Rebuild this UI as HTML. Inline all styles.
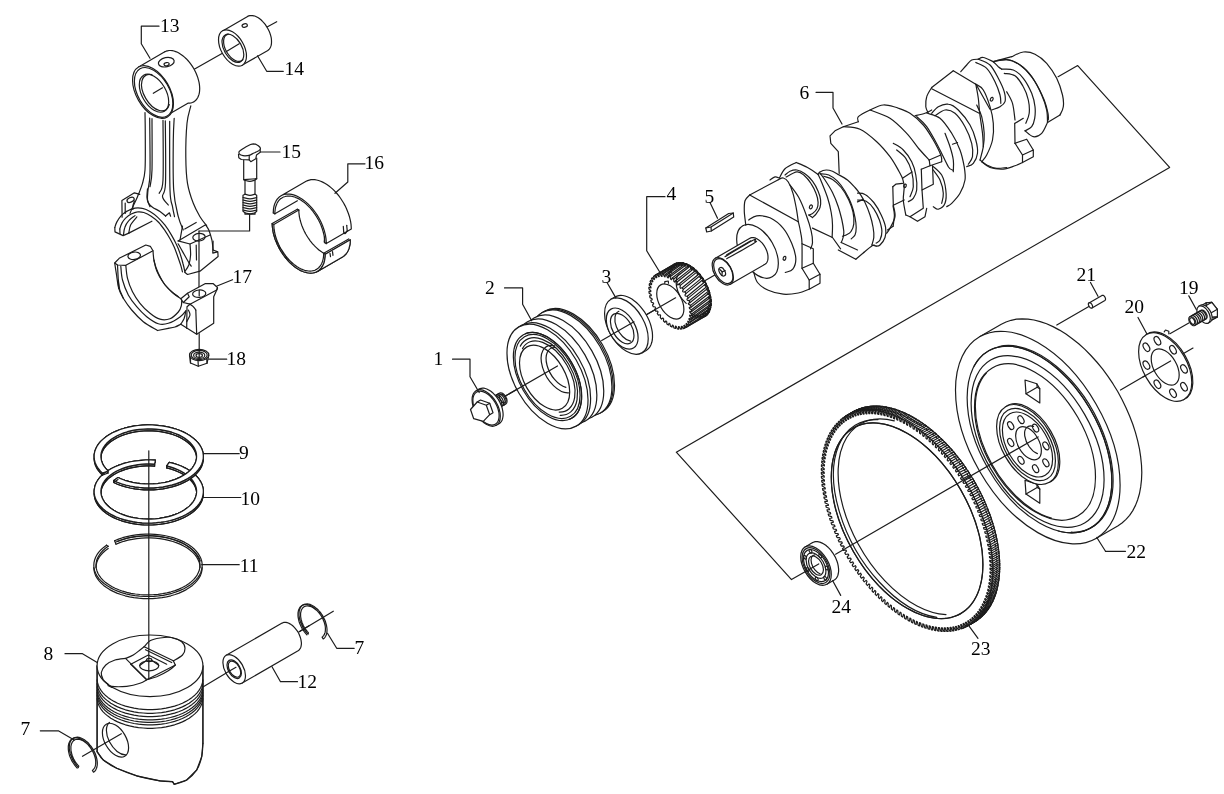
<!DOCTYPE html>
<html><head><meta charset="utf-8"><title>Engine crank mechanism exploded view</title>
<style>
html,body{margin:0;padding:0;background:#fff;}
body{width:1224px;height:794px;overflow:hidden;font-family:"Liberation Serif",serif;}
svg{display:block;will-change:transform;}
svg path,svg ellipse,svg line,svg polyline,svg circle{fill:none;stroke:#1c1c1c;stroke-width:1.2;stroke-linecap:round;stroke-linejoin:round;}
svg text{font-family:"Liberation Serif",serif;fill:#000;stroke:none;}
</style></head><body>
<svg width="1224" height="794" viewBox="0 0 1224 794">
<path d="M194.2 69.2 L239.2 43.7"/>
<path d="M267.5 26.7 L276.7 21.7"/>
<path d="M222.6 30.9 L247.6 16.4 L248.7 15.9 L249.9 15.6 L251.2 15.5 L252.5 15.6 L253.9 15.8 L255.3 16.3 L256.8 17 L258.3 17.8 L259.7 18.8 L261.2 20 L262.5 21.4 L263.9 22.8 L265.2 24.4 L266.3 26.1 L267.4 27.8 L268.4 29.7 L269.3 31.5 L270 33.4 L270.6 35.3 L271.1 37.2 L271.4 39 L271.5 40.8 L271.5 42.5 L271.4 44.1 L271.1 45.5 L270.6 46.9 L270 48.1 L269.3 49.1 L268.4 50 L267.4 50.7 L242.4 65.1" style="fill:#fff"/>
<ellipse cx="232.5" cy="48" rx="19.8" ry="11.4" transform="rotate(60 232.5 48)" style="fill:#fff"/>
<ellipse cx="232.9" cy="48.3" rx="15.4" ry="8.9" transform="rotate(60 232.9 48.3)"/>
<path d="M228.2 34.1 A15 8.7 60 1 0 243 59.6"/>
<path d="M226 51.7 L239.2 43.7"/>
<ellipse cx="244.7" cy="25.5" rx="2.7" ry="1.7" transform="rotate(-15 244.7 25.5)"/>
<path d="M257.5 55.8 L266.7 71.3 L283.3 71.3"/>
<text x="284.5" y="75" font-size="19.5">14</text>
<path d="M164.8 51.8 L166.1 51.2 L167.5 50.8 L169 50.5 L170.6 50.5 L172.3 50.6 L174 51 L175.7 51.6 L177.5 52.3 L179.2 53.3 L181 54.4 L182.8 55.7 L184.5 57.1 L186.2 58.7 L187.9 60.5 L189.5 62.3 L191 64.3 L192.4 66.4 L193.7 68.5 L194.9 70.7 L196 73 L196.9 75.3 L197.8 77.6 L198.4 79.9 L199 82.1 L199.4 84.4 L199.6 86.5 L199.7 88.6 L199.6 90.7 L199.4 92.6 L199 94.4 L198.4 96 L197.8 97.5 L196.9 98.9 L196 100 L194.9 101.1 L193.7 101.9 L192.4 102.5 L191 102.9 L189.5 103.2 L187.9 103.2 L161.6 118.4" style="fill:#fff"/>
<path d="M138.6 67 L164.8 51.8"/>
<ellipse cx="153" cy="92" rx="28.9" ry="16.7" transform="rotate(60 153 92)" style="fill:#fff"/>
<ellipse cx="153.6" cy="92.4" rx="27.2" ry="15.7" transform="rotate(60 153.6 92.4)"/>
<ellipse cx="154" cy="93.2" rx="20.8" ry="12" transform="rotate(60 154 93.2)"/>
<path d="M151.9 74.7 A20 11.5 60 1 0 169.3 104.7"/>
<ellipse cx="166.3" cy="62.2" rx="8" ry="4.6" transform="rotate(-12 166.3 62.2)"/>
<ellipse cx="166.6" cy="64.2" rx="2.6" ry="1.6" transform="rotate(-12 166.6 64.2)"/>
<path d="M153.3 93.3 L162.5 87.8"/>
<path d="M145 112.5 C145.1 117.1 145.3 130.4 145.3 140 C145.3 149.6 145.5 162.8 145 170 C144.5 177.2 143.8 178.9 142.5 183.3 C141.2 187.8 139.1 192.8 137.5 196.7 C135.9 200.6 134.1 203.9 132.8 206.7 C131.6 209.4 130.5 212.2 130 213.3"/>
<path d="M149.7 118 C149.7 127.2 150.3 161.3 150 173.3 C149.7 185.3 148.4 185.6 148 190 C147.6 194.4 147.2 197.2 147.5 200 C147.8 202.8 149.6 205.6 150 206.7"/>
<path d="M152 118.7 C152 127.2 152.3 158.7 152 170 C151.7 181.3 150.3 183.9 150 186.7"/>
<path d="M163 120.3 C163 130.3 163.6 167.8 163 180 C162.4 192.2 159.8 191.1 159.2 193.3"/>
<path d="M165.3 120.8 C165.4 131.2 166 170.7 165.5 183.3 C165 196 162 193.1 162.5 196.7 C163 200.3 167.4 203.6 168.3 205"/>
<path d="M169.7 121.3 C169.7 132.8 169.5 175.8 170 190 C170.5 204.2 171.8 202.2 172.5 206.7 C173.2 211.1 174.2 215 174.5 216.7"/>
<path d="M174.2 118.3 C174 121.9 173.4 128.1 173.3 140 C173.2 151.9 172.8 177.2 173.7 190 C174.5 202.8 176.7 210 178.3 216.7 C179.9 223.3 182.5 227.8 183.3 230"/>
<path d="M190.8 105.8 C190.2 108.8 187.8 114.9 187 123.3 C186.2 131.8 185.7 146.7 185.8 156.7 C185.9 166.7 186.2 175.6 187.5 183.3 C188.8 191.1 191.2 197.8 193.3 203.3 C195.4 208.9 197.8 212.9 200 216.7 C202.2 220.4 205.6 224.3 206.7 225.8"/>
<path d="M114.8 227.5 C115.1 226.6 115.8 223.9 116.9 221.9 C118 219.9 119.5 217.5 121.2 215.6 C123 213.8 125.2 212.1 127.5 210.9 C129.8 209.6 132.5 208.5 135 208.1 C137.5 207.7 140 207.8 142.5 208.4 C145 208.9 147.5 210 150 211.5 C152.5 213 155 214.8 157.5 217.1 C160 219.4 162.7 222.3 165 225.2 C167.3 228.2 169.4 231.5 171.2 234.6 C173.1 237.8 174.8 240.9 176.2 244 C177.7 247.1 178.9 250 180 253.4 C181.1 256.7 182.3 260.8 183.1 264 C184 267.2 184.7 271.1 185 272.5"/>
<path d="M119.8 229 C120.1 228 120.9 224.9 121.9 223.1 C122.9 221.3 124.1 219.6 125.6 218.1 C127.2 216.6 129.3 215 131.2 214 C133.2 213 135.4 212.1 137.5 211.9 C139.6 211.6 141.5 211.8 143.8 212.5 C146 213.2 148.8 214.6 151.2 216.2 C153.8 217.9 156.5 220.1 158.8 222.5 C161 224.9 163.1 227.9 165 230.6 C166.9 233.3 168.4 235.9 170 238.8 C171.6 241.6 173 244.4 174.4 247.5 C175.7 250.6 177 254.4 178.1 257.5 C179.2 260.6 180.3 263.9 181 266.2 C181.7 268.6 182.2 270.9 182.5 271.9"/>
<path d="M123.5 234.8 C123.7 233.5 123.9 229.9 124.8 227.5 C125.6 225.1 127 222.6 128.8 220.6 C130.5 218.6 134 216.5 135 215.6"/>
<path d="M128.8 233.1 C129.1 231.8 129.3 227.7 130.6 225 C132 222.3 135.8 218.2 136.9 216.9"/>
<path d="M114.8 227.5 L115 231.9 L123.1 235.6 L128.8 233.1"/>
<path d="M128.8 233.1 L151.9 221.2"/>
<path d="M119.8 229 L120 233.5"/>
<path d="M122.1 217.2 L121.9 200.6 L134.4 192.8 L139.8 194.4"/>
<path d="M125.2 213.5 L125.2 203.1"/>
<ellipse cx="130.6" cy="199.8" rx="3.8" ry="2.3" transform="rotate(-25 130.6 199.8)"/>
<path d="M134.4 201.2 C134.2 201.9 133.4 203.6 133.1 205 C132.9 206.4 132.8 208.6 132.8 209.4"/>
<path d="M147.5 188.8 C147.4 190.2 146.8 195.1 147 197.5 C147.2 199.9 147.6 201.5 148.5 203.1 C149.4 204.8 150.6 205.9 152.5 207.2 C154.4 208.6 157.8 210 160 211.5 C162.2 213 164.7 215.2 165.6 216"/>
<path d="M165.6 216 L169.4 212.8 L170.6 216.2"/>
<path d="M178.1 240.9 L205.6 224.8"/>
<path d="M180 240 L182.5 226.2"/>
<path d="M184.8 229 L196.2 222.5"/>
<path d="M205.6 224.8 C206.1 225.6 207.7 227.5 208.8 230 C209.8 232.5 211.1 236.7 211.9 240 C212.6 243.3 212.9 248.3 213.1 250"/>
<path d="M178.1 240.9 L190 244 L210 235"/>
<path d="M213.1 250 L217.8 251.9 L218.1 256.5 L200 271.2 L187.5 274.5 L185 272.5"/>
<path d="M213.1 241.2 L212.8 253.1 L217.5 251.9"/>
<ellipse cx="199" cy="237.2" rx="6.2" ry="3.8" transform="rotate(-5 199 237.2)"/>
<path d="M190 244 C190.1 245.8 190.8 251.5 190.6 255 C190.4 258.5 189.7 262.3 188.8 265 C187.8 267.7 185.6 270.2 185 271.2"/>
<path d="M178.1 243.8 C179.1 245.4 182 250.6 183.8 253.8 C185.5 256.9 187.5 260.4 188.8 262.5 C190 264.6 190.8 265.6 191.2 266.2"/>
<path d="M196.2 245 L196.5 260"/>
<path d="M199 231 L199 290"/>
<path d="M249.6 214.4 L249.6 231 L199 231"/>
<path d="M159 26.2 L141.3 26.2 L141.3 43.7 L150 58.3"/>
<text x="160" y="32" font-size="19.5">13</text>
<path d="M238.5 154.3 L238.8 157.7 L241.3 159.5 L249.2 159.8 L250.8 161.7 L255.8 158.7 L256.5 155 L260.2 152.3 L260.2 148.7" style="fill:#fff"/>
<path d="M240 150.7 C241 149.9 243.2 148.5 245 147.5 C246.8 146.5 249.1 145.1 250.5 144.5 C251.9 143.9 252.6 143.8 253.7 143.8 C254.7 143.9 255.7 144.1 256.7 144.7 C257.7 145.2 259.1 146.3 259.7 147 C260.3 147.7 260.5 148.4 260.3 149 C260.2 149.6 259.8 149.9 258.7 150.7 C257.5 151.4 254.9 152.6 253.3 153.3 C251.8 154.1 250.6 154.9 249.2 155.3 C247.8 155.8 246.2 155.8 245 155.8 C243.8 155.8 242.6 155.7 241.7 155.3 C240.7 155 239.8 154.4 239.3 153.8 C238.9 153.3 238.9 152.5 239 152 C239.1 151.5 239 151.4 240 150.7Z" style="fill:#fff"/>
<path d="M249.2 155.3 L249.2 159.8"/>
<path d="M243.7 160 L243.7 179.7 L245 180.3 L245 194.2 L243 195.3 L243 211.3 L245 212.8 L245 214.2 L255 214.2 L255 212.8 L256.7 211.3 L256.7 195.3 L255 194.2 L255 180 L256.7 178.7 L256.7 158"/>
<path d="M243.7 179.7 L256.7 178.7"/>
<path d="M245 180.3 C245.8 180.5 248.3 181.4 250 181.3 C251.7 181.3 254.2 180.2 255 180"/>
<path d="M245 194.2 C245.8 194.4 248.3 195.3 250 195.3 C251.7 195.3 254.2 194.4 255 194.2"/>
<path d="M243 197.5 C244.2 197.7 247.7 198.8 250 198.8 C252.3 198.8 255.6 197.7 256.7 197.5"/>
<path d="M243 200 C244.2 200.2 247.7 201.3 250 201.3 C252.3 201.3 255.6 200.2 256.7 200"/>
<path d="M243 202.5 C244.2 202.7 247.7 203.8 250 203.8 C252.3 203.8 255.6 202.7 256.7 202.5"/>
<path d="M243 205 C244.2 205.2 247.7 206.3 250 206.3 C252.3 206.3 255.6 205.2 256.7 205"/>
<path d="M243 207.5 C244.2 207.7 247.7 208.8 250 208.8 C252.3 208.8 255.6 207.7 256.7 207.5"/>
<path d="M243 210 C244.2 210.2 247.7 211.3 250 211.3 C252.3 211.3 255.6 210.2 256.7 210"/>
<path d="M245 212.8 C245.8 213 248.3 213.8 250 213.8 C251.7 213.8 254.2 213 255 212.8"/>
<path d="M260.3 152 L280 152"/>
<text x="281.5" y="158.3" font-size="19.5">15</text>
<path d="M273.3 212.9 L273.3 212.2 L273.3 211.4 L273.4 210.6 L273.4 209.8 L273.5 209.1 L273.6 208.4 L273.7 207.6 L273.9 206.9 L274 206.2 L274.2 205.6 L274.4 204.9 L274.6 204.2 L274.8 203.6 L275.1 203 L275.3 202.4 L275.6 201.8 L275.9 201.3 L276.2 200.7 L276.5 200.2 L276.9 199.7 L277.2 199.2 L277.6 198.8 L278 198.3 L278.4 197.9 L278.8 197.5 L279.2 197.1 L279.6 196.7 L280.1 196.4 L280.6 196.1 L281.1 195.8 L306.1 181.3 L307.6 180.6 L309.3 180.1 L311 179.7 L312.8 179.6 L314.7 179.7 L316.6 180 L318.6 180.5 L320.7 181.2 L322.7 182.1 L324.8 183.2 L326.9 184.5 L329 186 L331 187.6 L333 189.4 L335 191.4 L336.9 193.5 L338.7 195.7 L340.4 198 L342 200.5 L343.6 203 L345 205.6 L346.3 208.2 L347.4 210.9 L348.4 213.5 L349.3 216.2 L350 218.9 L350.6 221.5 L351 224.1 L351.2 226.7 L351.3 229.1 L326.3 243.6 L326.3 243.6 L326.2 241.1 L326 238.6 L325.6 236 L325 233.3 L324.3 230.7 L323.4 228 L322.4 225.3 L321.2 222.6 L320 220 L318.5 217.4 L317 214.9 L315.4 212.5 L313.6 210.2 L311.8 207.9 L309.9 205.8 L308 203.9 L306 202.1 L303.9 200.4 L301.9 198.9 L299.8 197.7 L297.7 196.5 L295.7 195.6 L293.6 194.9 L291.6 194.4 L289.7 194.1 L287.8 194 L286 194.2 L284.2 194.5 L282.6 195 L281.1 195.8 L279.6 196.7 L278.4 197.9 L277.2 199.2 L276.2 200.7 L275.3 202.4 L274.6 204.2 L274 206.2 L273.6 208.4 L273.4 210.6 L273.3 212.9" style="fill:#fff"/>
<path d="M324.7 242.7 C324.7 242.3 324.7 241.1 324.7 240.3 C324.6 239.6 324.5 238.8 324.4 238 C324.3 237.2 324.2 236.3 324.1 235.5 C323.9 234.7 323.7 233.9 323.5 233 C323.3 232.2 323.1 231.4 322.8 230.5 C322.6 229.7 322.3 228.8 322 228 C321.7 227.2 321.4 226.3 321.1 225.5 C320.7 224.6 320.4 223.8 320 223 C319.6 222.1 319.2 221.3 318.8 220.5 C318.3 219.7 317.9 218.9 317.4 218.1 C317 217.3 316.5 216.5 316 215.7 C315.5 214.9 315 214.2 314.5 213.4 C313.9 212.7 313.4 211.9 312.8 211.2 C312.3 210.5 311.7 209.8 311.1 209.1 C310.5 208.4 309.9 207.8 309.3 207.2 C308.7 206.5 308.1 205.9 307.5 205.3 C306.9 204.7 306.3 204.1 305.6 203.6 C305 203.1 304.3 202.5 303.7 202.1 C303.1 201.6 302.4 201.1 301.8 200.7 C301.1 200.2 300.5 199.8 299.8 199.4 C299.1 199.1 298.5 198.7 297.8 198.4 C297.2 198.1 296.5 197.8 295.9 197.6 C295.3 197.3 294.6 197.1 294 196.9 C293.3 196.7 292.7 196.5 292.1 196.4 C291.5 196.3 290.9 196.2 290.3 196.1 C289.7 196.1 289.1 196 288.5 196.1 C287.9 196.1 287.3 196.1 286.8 196.2 C286.2 196.2 285.7 196.3 285.1 196.5 C284.6 196.6 284.1 196.8 283.6 197 C283.1 197.2 282.6 197.4 282.2 197.7 C281.7 198 281.3 198.3 280.8 198.6 C280.4 198.9 280 199.3 279.6 199.7 C279.2 200.1 278.9 200.5 278.5 200.9 C278.2 201.4 277.9 201.8 277.6 202.3 C277.3 202.8 277 203.4 276.8 203.9 C276.5 204.5 276.3 205.1 276.1 205.7 C275.9 206.3 275.7 206.9 275.5 207.5 C275.4 208.2 275.3 208.8 275.2 209.5 C275.1 210.2 275 210.9 274.9 211.6 C274.9 212.4 274.9 213.5 274.9 213.8"/>
<path d="M274.9 213.8 L273.3 212.9"/>
<path d="M274.9 213.8 L297.4 200.8"/>
<path d="M343.3 226.3 L343.7 232"/>
<path d="M346.7 225.3 L347.2 230.8"/>
<path d="M343.7 232 C343.9 232.3 344.4 233.9 345 233.7 C345.6 233.5 346.8 231.3 347.2 230.8"/>
<path d="M326.3 243.7 L324.2 242 L324.7 236.7"/>
<path d="M335 193.3 L347.8 182 L347.8 163.8 L365 163.8"/>
<text x="364.5" y="169.2" font-size="19.5">16</text>
<path d="M298.8 210.1 C298.9 210.5 298.9 211.7 298.9 212.5 C299 213.3 299.1 214.2 299.2 215.1 C299.3 215.9 299.4 216.8 299.6 217.7 C299.8 218.5 300 219.4 300.2 220.3 C300.5 221.2 300.7 222.1 301 223 C301.3 223.9 301.6 224.8 301.9 225.7 C302.3 226.6 302.6 227.5 303 228.4 C303.4 229.3 303.8 230.2 304.2 231.1 C304.7 231.9 305.1 232.8 305.6 233.7 C306.1 234.5 306.6 235.4 307.1 236.2 C307.6 237.1 308.1 237.9 308.7 238.7 C309.3 239.5 309.8 240.3 310.4 241.1 C311 241.8 311.6 242.6 312.2 243.3 C312.8 244 313.5 244.7 314.1 245.4 C314.8 246.1 315.4 246.8 316.1 247.4 C316.7 248 317.4 248.6 318.1 249.2 C318.8 249.8 319.4 250.3 320.1 250.8 C320.8 251.4 321.5 251.8 322.2 252.3 C322.9 252.7 323.6 253.2 324.3 253.5 C325 253.9 325.7 254.3 326.4 254.6 C327.1 254.9 327.8 255.2 328.5 255.4 C329.1 255.7 329.8 255.9 330.5 256.1 C331.2 256.2 331.8 256.4 332.5 256.5 C333.1 256.6 333.8 256.6 334.4 256.6 C335 256.7 335.9 256.6 336.2 256.6"/>
<path d="M272.2 223.6 L297.3 209.2"/>
<path d="M273.8 224.5 L298.8 210.1"/>
<path d="M297.3 209.2 L298.8 210.1"/>
<path d="M272.2 223.6 L272.3 226 L272.6 228.6 L273 231.2 L273.5 233.8 L274.3 236.5 L275.1 239.2 L276.2 241.8 L277.3 244.5 L278.6 247.1 L280 249.7 L281.5 252.2 L283.2 254.7 L284.9 257 L286.7 259.2 L288.6 261.3 L290.6 263.3 L292.6 265.1 L294.6 266.7 L296.7 268.2 L298.8 269.5 L300.8 270.6 L302.9 271.5 L304.9 272.2 L306.9 272.7 L308.9 273 L310.8 273.1 L312.6 273 L314.3 272.6 L316 272.1 L317.5 271.4 L318.9 270.4 L320.2 269.3 L321.3 267.9 L322.4 266.4 L323.2 264.7 L324 262.9 L324.5 260.9 L324.9 258.8 L325.2 256.6 L325.3 254.2 L350.3 239.8 L350.3 239.8 L350.2 242.1 L350 244.3 L349.5 246.5 L349 248.5 L348.3 250.3 L347.4 252 L346.4 253.5 L345.2 254.8 L343.9 256 L342.5 256.9 L317.5 271.4"/>
<path d="M272.2 223.6 L272.3 226 L272.6 228.6 L273 231.2 L273.5 233.8 L274.3 236.5 L275.1 239.2 L276.2 241.8 L277.3 244.5 L278.6 247.1 L280 249.7 L281.5 252.2 L283.2 254.7 L284.9 257 L286.7 259.2 L288.6 261.3 L290.6 263.3 L292.6 265.1 L294.6 266.7 L296.7 268.2 L298.8 269.5 L300.8 270.6 L302.9 271.5 L304.9 272.2 L306.9 272.7 L308.9 273 L310.8 273.1 L312.6 273 L314.3 272.6 L316 272.1 L317.5 271.4 L318.9 270.4 L320.2 269.3 L321.3 267.9 L322.4 266.4 L323.2 264.7 L324 262.9 L324.5 260.9 L324.9 258.8 L325.2 256.6 L325.3 254.2 L323.7 253.3 L323.6 255.5 L323.4 257.6 L323 259.6 L322.5 261.5 L321.8 263.2 L321 264.8 L320 266.2 L318.9 267.5 L317.7 268.6 L316.4 269.4 L314.9 270.2 L313.4 270.7 L311.8 271 L310.1 271.1 L308.3 271 L306.5 270.7 L304.6 270.3 L302.7 269.6 L300.7 268.7 L298.8 267.7 L296.8 266.5 L294.8 265.1 L292.9 263.5 L291 261.8 L289.2 260 L287.4 258 L285.7 255.9 L284.1 253.7 L282.6 251.4 L281.1 249.1 L279.8 246.7 L278.6 244.2 L277.5 241.7 L276.5 239.1 L275.7 236.6 L275 234.1 L274.5 231.6 L274.1 229.2 L273.9 226.8 L273.8 224.5Z" style="fill:#fff"/>
<path d="M317.5 271.4 L318.9 270.4 L320.2 269.3 L321.3 267.9 L322.4 266.4 L323.2 264.7 L324 262.9 L324.5 260.9 L324.9 258.8 L325.2 256.6 L325.3 254.2 L350.3 239.8 L350.3 239.8 L350.2 242.1 L350 244.3 L349.5 246.5 L349 248.5 L348.3 250.3 L347.4 252 L346.4 253.5 L345.2 254.8 L343.9 256 L342.5 256.9Z" style="fill:#fff"/>
<path d="M323.7 253.3 L348.7 238.9"/>
<path d="M330 253.3 L330.5 256.7"/>
<path d="M332.5 251.7 L333 255.3"/>
<path d="M114.7 263 C115 265.1 116 271.6 116.7 275.8 C117.3 280.1 117.6 284.6 118.7 288.3 C119.8 292.1 121.2 294.7 123.3 298.3 C125.5 301.9 128.3 306.1 131.7 310 C135 313.9 139 318.2 143.3 321.7 C147.6 325.1 155.1 329 157.5 330.5"/>
<path d="M157.5 330.5 L168.3 328.3"/>
<path d="M168.3 328.3 C169.4 328.1 172.9 327.7 175 327 C177.1 326.3 179.9 324.6 180.8 324.2"/>
<path d="M125.8 265.3 C126.1 267.5 126.4 273.9 127.5 278.3 C128.6 282.7 130.4 287.5 132.5 291.7 C134.6 295.8 137.1 299.7 140 303.3 C142.9 306.9 146.7 310.7 150 313.3 C153.3 316 156.7 318.3 160 319.2 C163.3 320.1 166.9 319.9 170 318.7 C173.1 317.5 176.4 314.1 178.3 312 C180.2 309.9 180.8 307.8 181.3 305.8 C181.9 303.8 181.6 301 181.7 300"/>
<path d="M120.8 266.3 C121.1 268.6 121.2 275.2 122.5 280 C123.8 284.8 126 290.6 128.3 295 C130.7 299.4 133.6 303.1 136.7 306.7 C139.7 310.3 143.1 313.8 146.7 316.7 C150.3 319.5 154.7 322.6 158.3 323.7 C161.9 324.8 164.7 324.4 168.3 323.3 C171.9 322.2 177.1 319.1 180 317 C182.9 314.9 184.9 311.9 185.8 310.8"/>
<path d="M153 250.8 C153.2 252.6 153.3 257.9 154.2 261.7 C155.1 265.4 156.5 269.4 158.3 273.3 C160.1 277.2 162.5 281.7 165 285 C167.5 288.3 170.7 291.1 173.3 293.3 C176 295.6 179.6 297.8 180.8 298.7"/>
<path d="M154 260 C154.4 261.8 155.1 267.1 156.7 270.8 C158.2 274.6 160.8 279 163.3 282.5 C165.8 286 169.2 289.3 171.7 291.7 C174.2 294 177.2 295.8 178.3 296.7"/>
<path d="M114.7 263 L119.2 258.3 L145.8 245 L150.3 246.3 L153 250.8 L125.8 265.3 L117.5 265 L114.7 263" style="fill:#fff"/>
<ellipse cx="134.2" cy="255.8" rx="6.3" ry="3.7" transform="rotate(-8 134.2 255.8)"/>
<path d="M117.5 265 L118.7 288.3"/>
<path d="M118.3 280 L119.7 290 L123.3 298.3"/>
<path d="M180.8 298.7 L187.5 293.3 L205 283.7 L213.3 283.7 L217.5 287.5 L216.7 290 L190 304.2 L183.3 302.5 L180.8 298.7" style="fill:#fff"/>
<ellipse cx="199.2" cy="293.7" rx="6.6" ry="3.7" transform="rotate(-5 199.2 293.7)"/>
<path d="M187.5 293.3 L189.2 296.7 L183.3 302.5"/>
<path d="M217.5 288.3 L213.7 296.7 L213.7 323.3 L196.7 334.2 L180.8 324.2"/>
<path d="M190 304.2 L187 306.7 L186.7 328.3"/>
<path d="M195.8 310 L196.7 334.2"/>
<path d="M190 304.2 C190.6 304.6 192.4 305.7 193.3 306.7 C194.3 307.6 195.4 309.4 195.8 310"/>
<path d="M185.8 310.8 C185.6 312.1 185 316.1 184.2 318.3 C183.3 320.6 181.4 323.2 180.8 324.2"/>
<path d="M188.3 310 C188.6 310.8 190.3 313.1 190 315 C189.7 316.9 187.2 320.6 186.7 321.7"/>
<path d="M199.2 290 L199.2 295.8"/>
<path d="M199.2 333.7 L199.2 350"/>
<path d="M90 240"/>
<path d="M217 286 L232.5 279.7"/>
<text x="232.5" y="282.5" font-size="19.5">17</text>
<path d="M189.5 355 L190.5 363 L198.3 366.2 L207 363.3 L208.8 355.3"/>
<path d="M198.3 366.2 L198 360.3"/>
<path d="M207 363.3 L206.7 358"/>
<path d="M190.5 363 L190.5 357.5"/>
<ellipse cx="199.2" cy="355" rx="9.6" ry="5.6" style="fill:#fff"/>
<ellipse cx="199.2" cy="355" rx="8" ry="4.6" stroke-width="1.8"/>
<ellipse cx="199.2" cy="355.3" rx="5.6" ry="3.2" stroke-width="1.6"/>
<ellipse cx="199.2" cy="355.5" rx="3.2" ry="1.8"/>
<path d="M199.2 350 L199.2 356.7"/>
<path d="M208.7 359.2 L226.7 359.2"/>
<text x="226.5" y="365" font-size="19.5">18</text>
<path d="M169.2 462.3 L173.5 463.4 L177.7 464.8 L181.6 466.3 L185.3 468.1 L188.7 470 L191.8 472.1 L194.5 474.3 L197 476.7 L199 479.2 L200.7 481.8 L202 484.4 L202.8 487.1 L203.3 489.9 L203.3 492.6 L202.9 495.3 L202.2 498 L201 500.7 L199.4 503.3 L197.4 505.8 L195.1 508.2 L192.4 510.5 L189.3 512.6 L186 514.5 L182.4 516.3 L178.5 517.9 L174.4 519.3 L170.1 520.5 L165.6 521.5 L161 522.2 L156.3 522.7 L151.6 523 L146.8 523 L142.1 522.8 L137.4 522.3 L132.8 521.6 L128.3 520.7 L124 519.6 L119.8 518.2 L115.9 516.7 L112.2 514.9 L108.8 513 L105.7 510.9 L103 508.7 L100.5 506.3 L98.5 503.8 L96.8 501.2 L95.5 498.6 L94.7 495.9 L94.2 493.1 L94.2 490.4 L94.6 487.7 L95.3 485 L96.5 482.3 L98.1 479.7 L100.1 477.2 L102.4 474.8 L105.1 472.5 L108.2 470.4 L111.5 468.5 L115.1 466.7 L119 465.1 L123.1 463.7 L127.4 462.5 L131.9 461.5 L136.5 460.8 L141.2 460.3 L145.9 460 L150.7 460 L155.4 460.2 L155.4 462.2 L150.7 462 L145.9 462 L141.2 462.3 L136.5 462.8 L131.9 463.5 L127.4 464.5 L123.1 465.7 L119 467.1 L115.1 468.7 L111.5 470.5 L108.2 472.4 L105.1 474.5 L102.4 476.8 L100.1 479.2 L98.1 481.7 L96.5 484.3 L95.3 487 L94.6 489.7 L94.2 492.4 L94.2 495.1 L94.7 497.9 L95.5 500.6 L96.8 503.2 L98.5 505.8 L100.5 508.3 L103 510.7 L105.7 512.9 L108.8 515 L112.2 516.9 L115.9 518.7 L119.8 520.2 L124 521.6 L128.3 522.7 L132.8 523.6 L137.4 524.3 L142.1 524.8 L146.8 525 L151.6 525 L156.3 524.7 L161 524.2 L165.6 523.5 L170.1 522.5 L174.4 521.3 L178.5 519.9 L182.4 518.3 L186 516.5 L189.3 514.6 L192.4 512.5 L195.1 510.2 L197.4 507.8 L199.4 505.3 L201 502.7 L202.2 500 L202.9 497.3 L203.3 494.6 L203.3 491.9 L202.8 489.1 L202 486.4 L200.7 483.8 L199 481.2 L197 478.7 L194.5 476.3 L191.8 474.1 L188.7 472 L185.3 470.1 L181.6 468.3 L177.7 466.8 L173.5 465.4 L169.2 464.3Z" style="fill:#fff" stroke-width="0" stroke="#fff"/>
<path d="M166.7 465.9 L170.5 466.9 L174.1 468.1 L177.6 469.5 L180.8 471 L183.8 472.7 L186.5 474.5 L188.9 476.5 L191 478.5 L192.8 480.7 L194.3 483 L195.4 485.3 L196.2 487.7 L196.6 490.1 L196.6 492.5 L196.3 494.9 L195.6 497.2 L194.6 499.6 L193.2 501.8 L191.4 504 L189.4 506.1 L187 508.1 L184.3 510 L181.4 511.7 L178.2 513.2 L174.8 514.6 L171.2 515.9 L167.5 516.9 L163.6 517.7 L159.5 518.4 L155.4 518.8 L151.3 519.1 L147.1 519.1 L142.9 518.9 L138.8 518.5 L134.7 517.9 L130.8 517.1 L127 516.1 L123.4 514.9 L119.9 513.5 L116.7 512 L113.7 510.3 L111 508.5 L108.6 506.5 L106.5 504.5 L104.7 502.3 L103.2 500 L102.1 497.7 L101.3 495.3 L100.9 492.9 L100.9 490.5 L101.2 488.1 L101.9 485.8 L102.9 483.4 L104.3 481.2 L106.1 479 L108.1 476.9 L110.5 474.9 L113.2 473 L116.1 471.3 L119.3 469.8 L122.7 468.4 L126.3 467.1 L130 466.1 L133.9 465.3 L138 464.6 L142.1 464.2 L146.2 463.9 L150.4 463.9 L154.6 464.1 L154.6 466.1 L150.4 465.9 L146.2 465.9 L142.1 466.2 L138 466.6 L133.9 467.3 L130 468.1 L126.3 469.1 L122.7 470.4 L119.3 471.8 L116.1 473.3 L113.2 475 L110.5 476.9 L108.1 478.9 L106.1 481 L104.3 483.2 L102.9 485.4 L101.9 487.8 L101.2 490.1 L100.9 492.5 L100.9 494.9 L101.3 497.3 L102.1 499.7 L103.2 502 L104.7 504.3 L106.5 506.5 L108.6 508.5 L111 510.5 L113.7 512.3 L116.7 514 L119.9 515.5 L123.4 516.9 L127 518.1 L130.8 519.1 L134.7 519.9 L138.8 520.5 L142.9 520.9 L147.1 521.1 L151.3 521.1 L155.4 520.8 L159.5 520.4 L163.6 519.7 L167.5 518.9 L171.2 517.9 L174.8 516.6 L178.2 515.2 L181.4 513.7 L184.3 512 L187 510.1 L189.4 508.1 L191.4 506 L193.2 503.8 L194.6 501.6 L195.6 499.2 L196.3 496.9 L196.6 494.5 L196.6 492.1 L196.2 489.7 L195.4 487.3 L194.3 485 L192.8 482.7 L191 480.5 L188.9 478.5 L186.5 476.5 L183.8 474.7 L180.8 473 L177.6 471.5 L174.1 470.1 L170.5 468.9 L166.7 467.9Z" style="fill:#fff" stroke-width="0" stroke="#fff"/>
<path d="M169.2 462.3 L173.5 463.4 L177.7 464.8 L181.6 466.3 L185.3 468.1 L188.7 470 L191.8 472.1 L194.5 474.3 L197 476.7 L199 479.2 L200.7 481.8 L202 484.4 L202.8 487.1 L203.3 489.9 L203.3 492.6 L202.9 495.3 L202.2 498 L201 500.7 L199.4 503.3 L197.4 505.8 L195.1 508.2 L192.4 510.5 L189.3 512.6 L186 514.5 L182.4 516.3 L178.5 517.9 L174.4 519.3 L170.1 520.5 L165.6 521.5 L161 522.2 L156.3 522.7 L151.6 523 L146.8 523 L142.1 522.8 L137.4 522.3 L132.8 521.6 L128.3 520.7 L124 519.6 L119.8 518.2 L115.9 516.7 L112.2 514.9 L108.8 513 L105.7 510.9 L103 508.7 L100.5 506.3 L98.5 503.8 L96.8 501.2 L95.5 498.6 L94.7 495.9 L94.2 493.1 L94.2 490.4 L94.6 487.7 L95.3 485 L96.5 482.3 L98.1 479.7 L100.1 477.2 L102.4 474.8 L105.1 472.5 L108.2 470.4 L111.5 468.5 L115.1 466.7 L119 465.1 L123.1 463.7 L127.4 462.5 L131.9 461.5 L136.5 460.8 L141.2 460.3 L145.9 460 L150.7 460 L155.4 460.2 L154.6 464.1 L150.4 463.9 L146.2 463.9 L142.1 464.2 L138 464.6 L133.9 465.3 L130 466.1 L126.3 467.1 L122.7 468.4 L119.3 469.8 L116.1 471.3 L113.2 473 L110.5 474.9 L108.1 476.9 L106.1 479 L104.3 481.2 L102.9 483.4 L101.9 485.8 L101.2 488.1 L100.9 490.5 L100.9 492.9 L101.3 495.3 L102.1 497.7 L103.2 500 L104.7 502.3 L106.5 504.5 L108.6 506.5 L111 508.5 L113.7 510.3 L116.7 512 L119.9 513.5 L123.4 514.9 L127 516.1 L130.8 517.1 L134.7 517.9 L138.8 518.5 L142.9 518.9 L147.1 519.1 L151.3 519.1 L155.4 518.8 L159.5 518.4 L163.6 517.7 L167.5 516.9 L171.2 515.9 L174.8 514.6 L178.2 513.2 L181.4 511.7 L184.3 510 L187 508.1 L189.4 506.1 L191.4 504 L193.2 501.8 L194.6 499.6 L195.6 497.2 L196.3 494.9 L196.6 492.5 L196.6 490.1 L196.2 487.7 L195.4 485.3 L194.3 483 L192.8 480.7 L191 478.5 L188.9 476.5 L186.5 474.5 L183.8 472.7 L180.8 471 L177.6 469.5 L174.1 468.1 L170.5 466.9 L166.7 465.9Z" style="fill:#fff" stroke-width="0" stroke="#fff"/>
<path d="M166.7 467.9 L170.7 469 L174.5 470.2 L178 471.7 L181.4 473.3 L184.4 475.1 L187.2 477 L189.6 479.1 L191.7 481.3 L193.5 483.6 L194.9 486 L195.9 488.5 L196.5 491 L196.7 493.5"/>
<path d="M100.8 493.5 L101 491 L101.6 488.6 L102.6 486.2 L103.9 483.9 L105.5 481.6 L107.5 479.4 L109.9 477.4 L112.5 475.5 L115.4 473.7 L118.6 472 L122.1 470.6 L125.7 469.3 L129.5 468.2 L133.5 467.3 L137.6 466.7 L141.8 466.2 L146.1 465.9 L150.3 465.9 L154.6 466.1"/>
<path d="M203.3 493.5 L203.1 496.2 L202.5 499 L201.5 501.7 L200.1 504.3 L198.2 506.8 L196 509.2 L193.5 511.6 L190.6 513.7 L187.4 515.8 L183.8 517.6 L180.1 519.3 L176.1 520.8 L171.8 522 L167.4 523.1 L162.9 523.9 L158.2 524.5 L153.5 524.9 L148.8 525 L144 524.9 L139.3 524.5 L134.6 523.9 L130.1 523.1 L125.7 522 L121.5 520.8 L117.4 519.3 L113.7 517.6 L110.1 515.8 L106.9 513.7 L104 511.6 L101.5 509.2 L99.3 506.8 L97.4 504.3 L96 501.7 L95 499 L94.4 496.2 L94.2 493.5"/>
<path d="M169.2 462.3 L173.5 463.4 L177.7 464.8 L181.6 466.3 L185.3 468.1 L188.7 470 L191.8 472.1 L194.5 474.3 L197 476.7 L199 479.2 L200.7 481.8 L202 484.4 L202.8 487.1 L203.3 489.9 L203.3 492.6 L202.9 495.3 L202.2 498 L201 500.7 L199.4 503.3 L197.4 505.8 L195.1 508.2 L192.4 510.5 L189.3 512.6 L186 514.5 L182.4 516.3 L178.5 517.9 L174.4 519.3 L170.1 520.5 L165.6 521.5 L161 522.2 L156.3 522.7 L151.6 523 L146.8 523 L142.1 522.8 L137.4 522.3 L132.8 521.6 L128.3 520.7 L124 519.6 L119.8 518.2 L115.9 516.7 L112.2 514.9 L108.8 513 L105.7 510.9 L103 508.7 L100.5 506.3 L98.5 503.8 L96.8 501.2 L95.5 498.6 L94.7 495.9 L94.2 493.1 L94.2 490.4 L94.6 487.7 L95.3 485 L96.5 482.3 L98.1 479.7 L100.1 477.2 L102.4 474.8 L105.1 472.5 L108.2 470.4 L111.5 468.5 L115.1 466.7 L119 465.1 L123.1 463.7 L127.4 462.5 L131.9 461.5 L136.5 460.8 L141.2 460.3 L145.9 460 L150.7 460 L155.4 460.2 L154.6 464.1 L150.4 463.9 L146.2 463.9 L142.1 464.2 L138 464.6 L133.9 465.3 L130 466.1 L126.3 467.1 L122.7 468.4 L119.3 469.8 L116.1 471.3 L113.2 473 L110.5 474.9 L108.1 476.9 L106.1 479 L104.3 481.2 L102.9 483.4 L101.9 485.8 L101.2 488.1 L100.9 490.5 L100.9 492.9 L101.3 495.3 L102.1 497.7 L103.2 500 L104.7 502.3 L106.5 504.5 L108.6 506.5 L111 508.5 L113.7 510.3 L116.7 512 L119.9 513.5 L123.4 514.9 L127 516.1 L130.8 517.1 L134.7 517.9 L138.8 518.5 L142.9 518.9 L147.1 519.1 L151.3 519.1 L155.4 518.8 L159.5 518.4 L163.6 517.7 L167.5 516.9 L171.2 515.9 L174.8 514.6 L178.2 513.2 L181.4 511.7 L184.3 510 L187 508.1 L189.4 506.1 L191.4 504 L193.2 501.8 L194.6 499.6 L195.6 497.2 L196.3 494.9 L196.6 492.5 L196.6 490.1 L196.2 487.7 L195.4 485.3 L194.3 483 L192.8 480.7 L191 478.5 L188.9 476.5 L186.5 474.5 L183.8 472.7 L180.8 471 L177.6 469.5 L174.1 468.1 L170.5 466.9 L166.7 465.9Z" style="fill:#fff"/>
<path d="M166.7 465.9 L166.7 467.9"/>
<path d="M154.6 464.1 L154.6 466.1"/>
<path d="M102.4 473.1 L100.1 470.7 L98.1 468.2 L96.5 465.6 L95.3 462.9 L94.5 460.2 L94.2 457.4 L94.2 454.6 L94.7 451.9 L95.6 449.2 L96.9 446.5 L98.6 443.9 L100.7 441.4 L103.2 439.1 L106 436.8 L109.1 434.7 L112.5 432.8 L116.3 431.1 L120.2 429.5 L124.4 428.2 L128.8 427.1 L133.4 426.2 L138 425.5 L142.7 425.1 L147.5 424.9 L152.3 425 L157.1 425.3 L161.8 425.8 L166.4 426.6 L170.8 427.6 L175.1 428.8 L179.2 430.3 L183.1 431.9 L186.7 433.7 L190 435.7 L192.9 437.9 L195.6 440.2 L197.9 442.6 L199.8 445.2 L201.3 447.8 L202.4 450.5 L203.1 453.2 L203.3 456 L203.2 458.7 L202.6 461.5 L201.7 464.2 L200.3 466.8 L198.5 469.4 L196.3 471.9 L193.8 474.2 L190.9 476.4 L187.7 478.5 L184.2 480.4 L180.4 482.1 L176.4 483.6 L172.2 484.9 L167.7 485.9 L163.2 486.8 L158.5 487.4 L153.8 487.8 L149 487.9 L144.2 487.8 L139.4 487.4 L134.8 486.8 L130.2 486 L125.8 485 L121.5 483.7 L117.5 482.2 L113.7 480.5 L113.7 482.5 L117.5 484.2 L121.5 485.7 L125.8 487 L130.2 488 L134.8 488.8 L139.4 489.4 L144.2 489.8 L149 489.9 L153.8 489.8 L158.5 489.4 L163.2 488.8 L167.7 487.9 L172.2 486.9 L176.4 485.6 L180.4 484.1 L184.2 482.4 L187.7 480.5 L190.9 478.4 L193.8 476.2 L196.3 473.9 L198.5 471.4 L200.3 468.8 L201.7 466.2 L202.6 463.5 L203.2 460.7 L203.3 458 L203.1 455.2 L202.4 452.5 L201.3 449.8 L199.8 447.2 L197.9 444.6 L195.6 442.2 L192.9 439.9 L190 437.7 L186.7 435.7 L183.1 433.9 L179.2 432.3 L175.1 430.8 L170.8 429.6 L166.4 428.6 L161.8 427.8 L157.1 427.3 L152.3 427 L147.5 426.9 L142.7 427.1 L138 427.5 L133.4 428.2 L128.8 429.1 L124.4 430.2 L120.2 431.5 L116.3 433.1 L112.5 434.8 L109.1 436.7 L106 438.8 L103.2 441.1 L100.7 443.4 L98.6 445.9 L96.9 448.5 L95.6 451.2 L94.7 453.9 L94.2 456.6 L94.2 459.4 L94.5 462.2 L95.3 464.9 L96.5 467.6 L98.1 470.2 L100.1 472.7 L102.4 475.1Z" style="fill:#fff" stroke-width="0" stroke="#fff"/>
<path d="M108.1 471 L106.1 468.9 L104.3 466.7 L102.9 464.4 L101.9 462.1 L101.2 459.7 L100.9 457.3 L100.9 454.9 L101.3 452.4 L102.1 450.1 L103.3 447.7 L104.8 445.5 L106.6 443.3 L108.8 441.2 L111.2 439.3 L114 437.4 L117 435.7 L120.3 434.2 L123.7 432.9 L127.4 431.7 L131.3 430.7 L135.2 429.9 L139.3 429.3 L143.5 429 L147.7 428.8 L151.9 428.9 L156 429.1 L160.2 429.6 L164.2 430.3 L168.1 431.2 L171.9 432.2 L175.5 433.5 L178.9 434.9 L182 436.5 L184.9 438.3 L187.5 440.2 L189.8 442.2 L191.8 444.3 L193.5 446.6 L194.8 448.9 L195.8 451.2 L196.4 453.6 L196.6 456 L196.5 458.5 L196 460.9 L195.2 463.2 L193.9 465.5 L192.4 467.8 L190.5 470 L188.3 472 L185.7 473.9 L182.9 475.7 L179.8 477.4 L176.5 478.9 L173 480.2 L169.3 481.3 L165.4 482.3 L161.4 483 L157.3 483.6 L153.1 483.9 L148.9 484 L144.7 483.9 L140.6 483.6 L136.5 483.1 L132.5 482.4 L128.6 481.4 L124.8 480.3 L121.3 479 L118 477.5 L118 479.5 L121.3 481 L124.8 482.3 L128.6 483.4 L132.5 484.4 L136.5 485.1 L140.6 485.6 L144.7 485.9 L148.9 486 L153.1 485.9 L157.3 485.6 L161.4 485 L165.4 484.3 L169.3 483.3 L173 482.2 L176.5 480.9 L179.8 479.4 L182.9 477.7 L185.7 475.9 L188.3 474 L190.5 472 L192.4 469.8 L193.9 467.5 L195.2 465.2 L196 462.9 L196.5 460.5 L196.6 458 L196.4 455.6 L195.8 453.2 L194.8 450.9 L193.5 448.6 L191.8 446.3 L189.8 444.2 L187.5 442.2 L184.9 440.3 L182 438.5 L178.9 436.9 L175.5 435.5 L171.9 434.2 L168.1 433.2 L164.2 432.3 L160.2 431.6 L156 431.1 L151.9 430.9 L147.7 430.8 L143.5 431 L139.3 431.3 L135.2 431.9 L131.3 432.7 L127.4 433.7 L123.7 434.9 L120.3 436.2 L117 437.7 L114 439.4 L111.2 441.3 L108.8 443.2 L106.6 445.3 L104.8 447.5 L103.3 449.7 L102.1 452.1 L101.3 454.4 L100.9 456.9 L100.9 459.3 L101.2 461.7 L101.9 464.1 L102.9 466.4 L104.3 468.7 L106.1 470.9 L108.1 473Z" style="fill:#fff" stroke-width="0" stroke="#fff"/>
<path d="M102.4 473.1 L100.1 470.7 L98.1 468.2 L96.5 465.6 L95.3 462.9 L94.5 460.2 L94.2 457.4 L94.2 454.6 L94.7 451.9 L95.6 449.2 L96.9 446.5 L98.6 443.9 L100.7 441.4 L103.2 439.1 L106 436.8 L109.1 434.7 L112.5 432.8 L116.3 431.1 L120.2 429.5 L124.4 428.2 L128.8 427.1 L133.4 426.2 L138 425.5 L142.7 425.1 L147.5 424.9 L152.3 425 L157.1 425.3 L161.8 425.8 L166.4 426.6 L170.8 427.6 L175.1 428.8 L179.2 430.3 L183.1 431.9 L186.7 433.7 L190 435.7 L192.9 437.9 L195.6 440.2 L197.9 442.6 L199.8 445.2 L201.3 447.8 L202.4 450.5 L203.1 453.2 L203.3 456 L203.2 458.7 L202.6 461.5 L201.7 464.2 L200.3 466.8 L198.5 469.4 L196.3 471.9 L193.8 474.2 L190.9 476.4 L187.7 478.5 L184.2 480.4 L180.4 482.1 L176.4 483.6 L172.2 484.9 L167.7 485.9 L163.2 486.8 L158.5 487.4 L153.8 487.8 L149 487.9 L144.2 487.8 L139.4 487.4 L134.8 486.8 L130.2 486 L125.8 485 L121.5 483.7 L117.5 482.2 L113.7 480.5 L118 477.5 L121.3 479 L124.8 480.3 L128.6 481.4 L132.5 482.4 L136.5 483.1 L140.6 483.6 L144.7 483.9 L148.9 484 L153.1 483.9 L157.3 483.6 L161.4 483 L165.4 482.3 L169.3 481.3 L173 480.2 L176.5 478.9 L179.8 477.4 L182.9 475.7 L185.7 473.9 L188.3 472 L190.5 470 L192.4 467.8 L193.9 465.5 L195.2 463.2 L196 460.9 L196.5 458.5 L196.6 456 L196.4 453.6 L195.8 451.2 L194.8 448.9 L193.5 446.6 L191.8 444.3 L189.8 442.2 L187.5 440.2 L184.9 438.3 L182 436.5 L178.9 434.9 L175.5 433.5 L171.9 432.2 L168.1 431.2 L164.2 430.3 L160.2 429.6 L156 429.1 L151.9 428.9 L147.7 428.8 L143.5 429 L139.3 429.3 L135.2 429.9 L131.3 430.7 L127.4 431.7 L123.7 432.9 L120.3 434.2 L117 435.7 L114 437.4 L111.2 439.3 L108.8 441.2 L106.6 443.3 L104.8 445.5 L103.3 447.7 L102.1 450.1 L101.3 452.4 L100.9 454.9 L100.9 457.3 L101.2 459.7 L101.9 462.1 L102.9 464.4 L104.3 466.7 L106.1 468.9 L108.1 471Z" style="fill:#fff" stroke-width="0" stroke="#fff"/>
<path d="M100.8 458.4 L101 456 L101.6 453.6 L102.5 451.3 L103.7 449 L105.3 446.7 L107.3 444.6 L109.5 442.6 L112.1 440.7 L114.9 438.9 L118 437.3 L121.3 435.8 L124.8 434.5 L128.5 433.4 L132.4 432.5 L136.4 431.7 L140.4 431.2 L144.6 430.9 L148.8 430.8 L152.9 430.9 L157.1 431.2 L161.1 431.7 L165.1 432.5 L169 433.4 L172.7 434.5 L176.2 435.8 L179.5 437.3 L182.6 438.9 L185.4 440.7 L188 442.6 L190.2 444.6 L192.2 446.7 L193.8 449 L195 451.3 L195.9 453.6 L196.5 456 L196.7 458.4"/>
<path d="M203.3 458.4 L203.1 461.1 L202.5 463.9 L201.5 466.6 L200.1 469.2 L198.2 471.7 L196 474.1 L193.5 476.5 L190.6 478.6 L187.4 480.7 L183.8 482.5 L180.1 484.2 L176.1 485.7 L171.8 486.9 L167.4 488 L162.9 488.8 L158.2 489.4 L153.5 489.8 L148.8 489.9 L144 489.8 L139.3 489.4 L134.6 488.8 L130.1 488 L125.7 486.9 L121.5 485.7 L117.4 484.2 L113.7 482.5"/>
<path d="M102.4 475.1 L100.5 473.2 L98.9 471.2 L97.4 469.2 L96.3 467.1 L95.3 464.9 L94.7 462.8 L94.3 460.6 L94.2 458.4"/>
<path d="M102.4 473.1 L100.1 470.7 L98.1 468.2 L96.5 465.6 L95.3 462.9 L94.5 460.2 L94.2 457.4 L94.2 454.6 L94.7 451.9 L95.6 449.2 L96.9 446.5 L98.6 443.9 L100.7 441.4 L103.2 439.1 L106 436.8 L109.1 434.7 L112.5 432.8 L116.3 431.1 L120.2 429.5 L124.4 428.2 L128.8 427.1 L133.4 426.2 L138 425.5 L142.7 425.1 L147.5 424.9 L152.3 425 L157.1 425.3 L161.8 425.8 L166.4 426.6 L170.8 427.6 L175.1 428.8 L179.2 430.3 L183.1 431.9 L186.7 433.7 L190 435.7 L192.9 437.9 L195.6 440.2 L197.9 442.6 L199.8 445.2 L201.3 447.8 L202.4 450.5 L203.1 453.2 L203.3 456 L203.2 458.7 L202.6 461.5 L201.7 464.2 L200.3 466.8 L198.5 469.4 L196.3 471.9 L193.8 474.2 L190.9 476.4 L187.7 478.5 L184.2 480.4 L180.4 482.1 L176.4 483.6 L172.2 484.9 L167.7 485.9 L163.2 486.8 L158.5 487.4 L153.8 487.8 L149 487.9 L144.2 487.8 L139.4 487.4 L134.8 486.8 L130.2 486 L125.8 485 L121.5 483.7 L117.5 482.2 L113.7 480.5 L118 477.5 L121.3 479 L124.8 480.3 L128.6 481.4 L132.5 482.4 L136.5 483.1 L140.6 483.6 L144.7 483.9 L148.9 484 L153.1 483.9 L157.3 483.6 L161.4 483 L165.4 482.3 L169.3 481.3 L173 480.2 L176.5 478.9 L179.8 477.4 L182.9 475.7 L185.7 473.9 L188.3 472 L190.5 470 L192.4 467.8 L193.9 465.5 L195.2 463.2 L196 460.9 L196.5 458.5 L196.6 456 L196.4 453.6 L195.8 451.2 L194.8 448.9 L193.5 446.6 L191.8 444.3 L189.8 442.2 L187.5 440.2 L184.9 438.3 L182 436.5 L178.9 434.9 L175.5 433.5 L171.9 432.2 L168.1 431.2 L164.2 430.3 L160.2 429.6 L156 429.1 L151.9 428.9 L147.7 428.8 L143.5 429 L139.3 429.3 L135.2 429.9 L131.3 430.7 L127.4 431.7 L123.7 432.9 L120.3 434.2 L117 435.7 L114 437.4 L111.2 439.3 L108.8 441.2 L106.6 443.3 L104.8 445.5 L103.3 447.7 L102.1 450.1 L101.3 452.4 L100.9 454.9 L100.9 457.3 L101.2 459.7 L101.9 462.1 L102.9 464.4 L104.3 466.7 L106.1 468.9 L108.1 471Z" style="fill:#fff"/>
<path d="M102.4 473.1 L102.4 475.1 L108.1 473"/>
<path d="M113.7 480.5 L113.7 482.5 L118 479.5"/>
<path d="M203.3 453.7 L239.2 453.7"/>
<text x="239" y="459.2" font-size="19.5">9</text>
<path d="M203.3 497.5 L240.8 497.5"/>
<text x="240.5" y="505" font-size="19.5">10</text>
<path d="M114.6 540.7 L118.5 539.1 L122.6 537.7 L126.9 536.6 L131.4 535.6 L136 534.9 L140.7 534.4 L145.5 534.1 L150.2 534.1 L155 534.4 L159.7 534.8 L164.3 535.5 L168.8 536.5 L173.1 537.6 L177.2 539 L181.1 540.6 L184.8 542.4 L188.1 544.3 L191.2 546.4 L193.9 548.7 L196.2 551.1 L198.2 553.6 L199.8 556.2 L201 558.8 L201.8 561.5 L202.2 564.3 L202.1 567 L201.6 569.7 L200.8 572.4 L199.5 575.1 L197.8 577.6 L195.7 580.1 L193.3 582.5 L190.5 584.7 L187.3 586.8 L183.9 588.7 L180.2 590.4 L176.2 591.9 L172.1 593.3 L167.7 594.4 L163.2 595.3 L158.5 595.9 L153.8 596.3 L149.1 596.5 L144.3 596.4 L139.6 596.1 L134.9 595.6 L130.3 594.8 L125.9 593.8 L121.6 592.6 L117.6 591.1 L113.7 589.5 L110.2 587.6 L106.9 585.6 L104 583.5 L101.4 581.2 L99.1 578.8 L97.2 576.2 L95.8 573.6 L94.7 571 L94 568.2 L93.8 565.5 L94 562.7 L94.6 560 L95.6 557.3 L97 554.7 L98.8 552.2 L101 549.7 L103.6 547.4 L106.5 545.2" stroke-width="1.8"/>
<path d="M116 542 L119.7 540.5 L123.7 539.1 L127.8 538 L132.1 537.1 L136.5 536.4 L141 536 L145.6 535.7 L150.1 535.7 L154.7 535.9 L159.2 536.4 L163.6 537.1 L167.9 538 L172.1 539.1 L176 540.4 L179.8 541.9 L183.3 543.5 L186.5 545.4 L189.4 547.4 L192 549.5 L194.3 551.8 L196.2 554.2 L197.7 556.6 L198.9 559.1 L199.6 561.7 L200 564.3 L199.9 566.9 L199.5 569.5 L198.6 572.1 L197.4 574.6 L195.8 577 L193.8 579.4 L191.4 581.6 L188.7 583.7 L185.7 585.7 L182.4 587.5 L178.9 589.1 L175.1 590.6 L171.1 591.8 L166.9 592.9 L162.6 593.7 L158.1 594.3 L153.6 594.7 L149 594.9 L144.5 594.8 L139.9 594.5 L135.4 594 L131 593.3 L126.8 592.3 L122.7 591.2 L118.8 589.8 L115.1 588.2 L111.7 586.5 L108.6 584.6 L105.7 582.6 L103.2 580.4 L101.1 578.1 L99.3 575.7 L97.9 573.2 L96.9 570.7 L96.2 568.1 L96 565.5 L96.2 562.9 L96.7 560.3 L97.7 557.7 L99.1 555.3 L100.8 552.9 L102.9 550.5 L105.4 548.3 L108.2 546.3" stroke-width="1.3"/>
<path d="M202.2 567.5 L202 570.2 L201.4 572.9 L200.4 575.6 L198.9 578.2 L197.1 580.7 L194.9 583.1 L192.4 585.4 L189.5 587.6 L186.3 589.6 L182.8 591.4 L179.1 593.1 L175.1 594.5 L170.9 595.8 L166.5 596.8 L162 597.6 L157.4 598.2 L152.7 598.6 L148 598.7 L143.3 598.6 L138.6 598.2 L134 597.6 L129.5 596.8 L125.1 595.8 L120.9 594.5 L116.9 593.1 L113.2 591.4 L109.7 589.6 L106.5 587.6 L103.6 585.4 L101.1 583.1 L98.9 580.7 L97.1 578.2 L95.6 575.6 L94.6 572.9 L94 570.2 L93.8 567.5" stroke-width="1.6"/>
<path d="M116 544.2 L119.8 542.6 L123.8 541.3 L128 540.2 L132.3 539.3 L136.8 538.6 L141.4 538.1 L146 537.9 L150.7 537.9 L155.3 538.2 L159.9 538.7 L164.3 539.4 L168.7 540.3 L172.9 541.5 L176.8 542.9 L180.6 544.4 L184.1 546.2 L187.3 548.1 L190.2 550.2 L192.7 552.4 L194.9 554.7 L196.7 557.1 L198.1 559.7 L199.2 562.2 L199.8 564.9 L200 567.5" stroke-width="1.6"/>
<path d="M96 567.5 L96.2 564.9 L96.8 562.4 L97.8 559.8 L99.1 557.4 L100.9 555 L103 552.7 L105.4 550.5 L108.2 548.5" stroke-width="1.6"/>
<path d="M117.5 541.4 L121.5 540 L125.6 538.7 L129.8 537.7 L134.3 536.9 L138.8 536.4 L143.4 536 L148 535.9 L152.6 536 L157.2 536.4 L161.7 536.9 L166.2 537.7 L170.4 538.7 L174.6 540 L178.5 541.4 L182.1 543 L185.5 544.8 L188.7 546.8 L191.5 548.9 L194 551.1 L196.1 553.5 L197.9 555.9 L199.3 558.4 L200.3 561" stroke-width="2.6"/>
<path d="M114.6 540.7 L116 544.2" stroke-width="1.6"/>
<path d="M106.5 545.2 L108.2 546.3" stroke-width="1.2"/>
<path d="M201.7 564.7 L239.2 564.7"/>
<text x="239.8" y="572" font-size="19.5">11</text>
<path d="M97.1 665.8 L97.1 751.7 L103.3 760 L116.7 768.3 L136.7 775.8 L160 780.8 L172.5 781.7 L174.2 784.2 L186.7 780 L196.7 770 L201.7 756.7 L202.9 743.3 L202.9 665.8" style="fill:#fff" stroke-width="0" stroke="#fff"/>
<path d="M97.1 665.8 L97.1 751.7"/>
<path d="M202.9 665.8 L202.9 743.3"/>
<path d="M97.1 751.7 C98.1 753.1 100 757.2 103.3 760 C106.6 762.8 111.1 765.7 116.7 768.3 C122.3 770.9 129.5 773.7 136.7 775.8 C143.9 777.9 154 779.8 160 780.8 C166 781.8 170.4 781.6 172.5 781.7"/>
<path d="M172.5 781.7 L174.2 784.2"/>
<path d="M174.2 784.2 C176.3 783.5 182.9 782.4 186.7 780 C190.4 777.6 194.2 773.9 196.7 770 C199.2 766.1 200.7 761.2 201.7 756.7 C202.7 752.2 202.7 745.5 202.9 743.3"/>
<path d="M202.9 679.9 L202.5 682.6 L201.7 685.2 L200.6 687.8 L199 690.4 L197.1 692.9 L194.8 695.2 L192.1 697.4 L189.2 699.5 L185.9 701.4 L182.4 703.2 L178.6 704.7 L174.6 706.1 L170.4 707.2 L166 708.2 L161.5 708.9 L156.9 709.3 L152.3 709.6 L147.7 709.6 L143.1 709.3 L138.5 708.9 L134 708.2 L129.6 707.2 L125.4 706.1 L121.4 704.7 L117.6 703.2 L114.1 701.4 L110.8 699.5 L107.9 697.4 L105.2 695.2 L102.9 692.9 L101 690.4 L99.4 687.8 L98.3 685.2 L97.5 682.6 L97.1 679.9" stroke-width="1.1"/>
<path d="M202.9 683.6 L202.5 686.3 L201.7 688.9 L200.6 691.5 L199 694.1 L197.1 696.6 L194.8 698.9 L192.1 701.1 L189.2 703.2 L185.9 705.1 L182.4 706.9 L178.6 708.4 L174.6 709.8 L170.4 710.9 L166 711.9 L161.5 712.6 L156.9 713 L152.3 713.3 L147.7 713.3 L143.1 713 L138.5 712.6 L134 711.9 L129.6 710.9 L125.4 709.8 L121.4 708.4 L117.6 706.9 L114.1 705.1 L110.8 703.2 L107.9 701.1 L105.2 698.9 L102.9 696.6 L101 694.1 L99.4 691.5 L98.3 688.9 L97.5 686.3 L97.1 683.6" stroke-width="1.5"/>
<path d="M202.9 686.9 L202.5 689.6 L201.7 692.2 L200.6 694.8 L199 697.4 L197.1 699.9 L194.8 702.2 L192.1 704.4 L189.2 706.5 L185.9 708.4 L182.4 710.2 L178.6 711.7 L174.6 713.1 L170.4 714.2 L166 715.2 L161.5 715.9 L156.9 716.3 L152.3 716.6 L147.7 716.6 L143.1 716.3 L138.5 715.9 L134 715.2 L129.6 714.2 L125.4 713.1 L121.4 711.7 L117.6 710.2 L114.1 708.4 L110.8 706.5 L107.9 704.4 L105.2 702.2 L102.9 699.9 L101 697.4 L99.4 694.8 L98.3 692.2 L97.5 689.6 L97.1 686.9" stroke-width="1"/>
<path d="M202.9 690.2 L202.5 692.9 L201.7 695.5 L200.6 698.1 L199 700.7 L197.1 703.2 L194.8 705.5 L192.1 707.7 L189.2 709.8 L185.9 711.7 L182.4 713.5 L178.6 715 L174.6 716.4 L170.4 717.5 L166 718.5 L161.5 719.2 L156.9 719.6 L152.3 719.9 L147.7 719.9 L143.1 719.6 L138.5 719.2 L134 718.5 L129.6 717.5 L125.4 716.4 L121.4 715 L117.6 713.5 L114.1 711.7 L110.8 709.8 L107.9 707.7 L105.2 705.5 L102.9 703.2 L101 700.7 L99.4 698.1 L98.3 695.5 L97.5 692.9 L97.1 690.2" stroke-width="1"/>
<path d="M202.9 692.7 L202.5 695.4 L201.7 698 L200.6 700.6 L199 703.2 L197.1 705.7 L194.8 708 L192.1 710.2 L189.2 712.3 L185.9 714.2 L182.4 716 L178.6 717.5 L174.6 718.9 L170.4 720 L166 721 L161.5 721.7 L156.9 722.1 L152.3 722.4 L147.7 722.4 L143.1 722.1 L138.5 721.7 L134 721 L129.6 720 L125.4 718.9 L121.4 717.5 L117.6 716 L114.1 714.2 L110.8 712.3 L107.9 710.2 L105.2 708 L102.9 705.7 L101 703.2 L99.4 700.6 L98.3 698 L97.5 695.4 L97.1 692.7" stroke-width="1"/>
<path d="M202.9 695.2 L202.5 697.9 L201.7 700.5 L200.6 703.1 L199 705.7 L197.1 708.2 L194.8 710.5 L192.1 712.7 L189.2 714.8 L185.9 716.7 L182.4 718.5 L178.6 720 L174.6 721.4 L170.4 722.5 L166 723.5 L161.5 724.2 L156.9 724.6 L152.3 724.9 L147.7 724.9 L143.1 724.6 L138.5 724.2 L134 723.5 L129.6 722.5 L125.4 721.4 L121.4 720 L117.6 718.5 L114.1 716.7 L110.8 714.8 L107.9 712.7 L105.2 710.5 L102.9 708.2 L101 705.7 L99.4 703.1 L98.3 700.5 L97.5 697.9 L97.1 695.2" stroke-width="1"/>
<path d="M202.9 698.6 L202.5 701.3 L201.7 703.9 L200.6 706.5 L199 709.1 L197.1 711.6 L194.8 713.9 L192.1 716.1 L189.2 718.2 L185.9 720.1 L182.4 721.9 L178.6 723.4 L174.6 724.8 L170.4 725.9 L166 726.9 L161.5 727.6 L156.9 728 L152.3 728.3 L147.7 728.3 L143.1 728 L138.5 727.6 L134 726.9 L129.6 725.9 L125.4 724.8 L121.4 723.4 L117.6 721.9 L114.1 720.1 L110.8 718.2 L107.9 716.1 L105.2 713.9 L102.9 711.6 L101 709.1 L99.4 706.5 L98.3 703.9 L97.5 701.3 L97.1 698.6" stroke-width="1.4"/>
<ellipse cx="150" cy="665.8" rx="52.9" ry="30.8" style="fill:#fff"/>
<path d="M125.8 658.3 C124 658.6 118.3 658.9 115 660 C111.7 661.1 108.1 662.9 105.8 665 C103.6 667.1 101.8 670.1 101.3 672.5 C100.9 674.9 102 677.3 103 679.2 C104 681 106.8 682.9 107.5 683.7" stroke-width="1.5"/>
<path d="M107.5 683.7 C108.2 684.1 108.5 685.9 111.7 686.3 C114.9 686.8 121.9 686.8 126.7 686.3 C131.4 685.8 136.7 684.4 140 683.3 C143.3 682.2 145.6 680.3 146.7 679.7"/>
<path d="M107.5 683.7 L108.3 685.8 L112 687.5"/>
<path d="M144.2 646.7 C145.1 645.7 147.4 642.3 150 640.8 C152.6 639.4 156.4 638.6 160 638 C163.6 637.4 168.1 636.9 171.7 637.5 C175.3 638.1 179.4 639.9 181.7 641.7 C183.9 643.5 184.9 646.1 185 648.3 C185.1 650.6 184.4 652.9 182.5 655 C180.6 657.1 174.9 659.9 173.3 660.8" stroke-width="1.5"/>
<path d="M125.8 658.3 C127.1 657.8 131 656.4 133.3 655 C135.7 653.6 138.2 651.4 140 650 C141.8 648.6 143.5 647.2 144.2 646.7" stroke-width="1.5"/>
<path d="M173.3 660.8 L175.3 665"/>
<path d="M175.3 665 C174.2 666 171.4 668.9 168.3 670.8 C165.2 672.8 160.3 675.2 156.7 676.7 C153.1 678.1 148.3 679.2 146.7 679.7"/>
<path d="M125.8 658.7 L146.7 679.7"/>
<path d="M144.2 646.7 L173.3 660.8"/>
<path d="M145.5 649.7 L171.7 662.5"/>
<path d="M146.7 679.7 L175 665.3"/>
<path d="M130.8 664.2 L148.3 655 L166.7 664.2"/>
<path d="M130.8 664.2 L146.7 679.7"/>
<ellipse cx="149.2" cy="665.8" rx="9.6" ry="5"/>
<ellipse cx="149.2" cy="660" rx="2.6" ry="1.6"/>
<path d="M146.7 660.3 L140 665.3"/>
<path d="M151.7 660.3 L158.7 665.3"/>
<ellipse cx="115.5" cy="740.2" rx="18.5" ry="10.7" transform="rotate(60 115.5 740.2)"/>
<path d="M109.4 722.5 A18.5 10.7 60 0 0 125.9 754.8"/>
<path d="M82.5 756.3 L121.3 733.7"/>
<path d="M65 653.7 L82.5 653.7 L97.2 662.5"/>
<text x="43.5" y="659.5" font-size="19.5">8</text>
<path d="M203.3 686.7 L234.2 668.3"/>
<path d="M93.5 772.2 L94.5 771.5 L95.3 770.6 L95.9 769.6 L96.5 768.3 L96.9 767 L97.2 765.5 L97.3 764 L97.3 762.3 L97.1 760.6 L96.8 758.8 L96.3 757 L95.8 755.1 L95.1 753.3 L94.2 751.5 L93.3 749.7 L92.2 748 L91.1 746.3 L89.8 744.8 L88.6 743.3 L87.2 742 L85.8 740.9 L84.4 739.8 L83 739 L81.6 738.3 L80.2 737.7 L78.8 737.4 L77.5 737.2 L76.2 737.3 L75 737.5 L73.9 737.9 L72.9 738.5 L72 739.2 L71.2 740.2 L70.6 741.3 L70 742.5 L69.6 743.8 L69.4 745.3 L69.3 746.9 L69.3 748.6 L69.5 750.3 L69.9 752.1 L70.3 753.9 L71 755.8 L71.7 757.6 L72.5 759.4 L73.5 761.2 L74.6 762.9 L75.7 764.5 L77 766.1 L78.3 767.5 L78.8 766.1 L77.7 764.9 L76.6 763.5 L75.5 762.1 L74.6 760.6 L73.7 759 L73 757.4 L72.3 755.7 L71.8 754.1 L71.4 752.5 L71.1 750.9 L70.9 749.3 L70.9 747.8 L70.9 746.4 L71.2 745.1 L71.5 743.9 L72 742.8 L72.6 741.8 L73.2 741 L74 740.3 L74.9 739.8 L75.9 739.5 L77 739.3 L78.1 739.2 L79.3 739.4 L80.5 739.7 L81.7 740.1 L83 740.8 L84.3 741.5 L85.5 742.5 L86.8 743.5 L88 744.7 L89.1 746 L90.2 747.3 L91.2 748.8 L92.2 750.3 L93 751.9 L93.7 753.5 L94.4 755.2 L94.9 756.8 L95.3 758.4 L95.6 760 L95.7 761.5 L95.7 763 L95.6 764.4 L95.4 765.7 L95 766.9 L94.5 768 L93.9 768.9 L93.2 769.7 L92.4 770.4Z" style="fill:#fff"/>
<path d="M85.9 742.4 L84.5 741.2 L83.1 740.2 L81.7 739.4 L80.3 738.7 L78.9 738.3 L77.5 738 L76.2 737.8 L75 737.9 L73.8 738.1 L72.7 738.6 L71.7 739.2 L70.8 739.9 L70.1 740.9 L69.5 742 L68.9 743.2 L68.6 744.6 L68.3 746.1 L68.3 747.6 L68.3 749.3 L68.5 751 L68.9 752.8 L69.3 754.7 L69.9 756.5 L70.7 758.3 L71.5 760.1 L72.5 761.9 L73.6 763.5 L74.7 765.2 L75.9 766.7 L77.2 768.1"/>
<path d="M40.3 730.8 L58.3 730.8 L74.2 740"/>
<text x="20.5" y="735" font-size="19.5">7</text>
<path d="M226.2 655.3 L282.1 623.1 L282.9 622.7 L283.9 622.4 L284.9 622.3 L286 622.4 L287.1 622.6 L288.3 623 L289.5 623.6 L290.7 624.2 L291.8 625.1 L293 626 L294.1 627.1 L295.2 628.3 L296.2 629.6 L297.2 630.9 L298.1 632.3 L298.9 633.8 L299.5 635.3 L300.1 636.8 L300.6 638.4 L301 639.9 L301.2 641.4 L301.4 642.8 L301.4 644.2 L301.2 645.4 L301 646.6 L300.6 647.7 L300.1 648.7 L299.5 649.5 L298.9 650.2 L298.1 650.8 L242.2 683.1" style="fill:#fff"/>
<ellipse cx="234.2" cy="669.2" rx="16" ry="9.2" transform="rotate(60 234.2 669.2)" style="fill:#fff"/>
<ellipse cx="234.2" cy="669.2" rx="10.2" ry="5.9" transform="rotate(60 234.2 669.2)"/>
<ellipse cx="234.5" cy="669.2" rx="8.8" ry="5.1" transform="rotate(60 234.5 669.2)"/>
<path d="M226 673 L236 667.3"/>
<path d="M272 666.7 L280.5 681.7 L297.5 681.7"/>
<text x="297.5" y="687.5" font-size="19.5">12</text>
<path d="M299.2 631.7 L333.3 611.2"/>
<path d="M323.2 638.9 L324.2 638.2 L325 637.3 L325.6 636.3 L326.2 635 L326.6 633.7 L326.9 632.2 L327 630.7 L327 629 L326.8 627.3 L326.5 625.5 L326 623.7 L325.5 621.8 L324.8 620 L323.9 618.2 L323 616.4 L321.9 614.7 L320.8 613 L319.5 611.5 L318.3 610 L316.9 608.7 L315.5 607.6 L314.1 606.5 L312.7 605.7 L311.3 605 L309.9 604.4 L308.5 604.1 L307.2 603.9 L305.9 604 L304.7 604.2 L303.6 604.6 L302.6 605.2 L301.7 605.9 L300.9 606.9 L300.3 608 L299.7 609.2 L299.3 610.5 L299.1 612 L299 613.6 L299 615.3 L299.2 617 L299.6 618.8 L300 620.6 L300.7 622.5 L301.4 624.3 L302.2 626.1 L303.2 627.9 L304.3 629.6 L305.4 631.2 L306.7 632.8 L308 634.2 L308.5 632.8 L307.4 631.6 L306.3 630.2 L305.2 628.8 L304.3 627.3 L303.4 625.7 L302.7 624.1 L302 622.4 L301.5 620.8 L301.1 619.2 L300.8 617.6 L300.6 616 L300.6 614.5 L300.6 613.1 L300.9 611.8 L301.2 610.6 L301.7 609.5 L302.3 608.5 L302.9 607.7 L303.7 607 L304.6 606.5 L305.6 606.2 L306.7 606 L307.8 605.9 L309 606.1 L310.2 606.4 L311.4 606.8 L312.7 607.5 L314 608.2 L315.2 609.2 L316.5 610.2 L317.7 611.4 L318.8 612.7 L319.9 614 L320.9 615.5 L321.9 617 L322.7 618.6 L323.4 620.2 L324.1 621.9 L324.6 623.5 L325 625.1 L325.3 626.7 L325.4 628.2 L325.4 629.7 L325.3 631.1 L325.1 632.4 L324.7 633.6 L324.2 634.7 L323.6 635.6 L322.9 636.4 L322.1 637.1Z" style="fill:#fff"/>
<path d="M315.6 609.1 L314.2 607.9 L312.8 606.9 L311.4 606.1 L310 605.4 L308.6 605 L307.2 604.7 L305.9 604.5 L304.7 604.6 L303.5 604.8 L302.4 605.3 L301.4 605.9 L300.5 606.6 L299.8 607.6 L299.2 608.7 L298.6 609.9 L298.3 611.3 L298 612.8 L298 614.3 L298 616 L298.2 617.7 L298.6 619.5 L299 621.4 L299.6 623.2 L300.4 625 L301.2 626.8 L302.2 628.6 L303.3 630.2 L304.4 631.9 L305.6 633.4 L306.9 634.8"/>
<path d="M299.2 631.7 L309 625.8"/>
<path d="M327.5 633.3 L336.7 648.3 L354.2 648.3"/>
<text x="354.5" y="654.2" font-size="19.5">7</text>
<path d="M148.8 450.8 L148.8 679"/>
<path d="M505.8 395.8 L557.5 366"/>
<path d="M485.7 401.1 L499.6 393.1 L499.9 393 L500.3 392.9 L500.7 392.8 L501.1 392.9 L501.5 393 L502 393.1 L502.4 393.3 L502.9 393.6 L503.3 393.9 L503.8 394.3 L504.2 394.7 L504.6 395.1 L505 395.6 L505.4 396.2 L505.8 396.7 L506.1 397.3 L506.3 397.9 L506.6 398.5 L506.7 399 L506.9 399.6 L507 400.2 L507 400.8 L507 401.3 L507 401.8 L506.9 402.3 L506.7 402.7 L506.6 403.1 L506.3 403.4 L506.1 403.7 L505.8 403.9 L491.9 411.9" style="fill:#fff"/>
<path d="M490 399.1 A6.2 3.6 60 1 1 495.8 409.2"/>
<path d="M491.8 398.1 A6.2 3.6 60 1 1 497.6 408.2"/>
<path d="M493.5 397.1 A6.2 3.6 60 1 1 499.3 407.2"/>
<path d="M495.2 396.1 A6.2 3.6 60 1 1 501 406.2"/>
<path d="M496.9 395.1 A6.2 3.6 60 1 1 502.8 405.2"/>
<ellipse cx="502.7" cy="398.5" rx="4.6" ry="2.7" transform="rotate(60 502.7 398.5)"/>
<path d="M476.2 390.7 L479 389.1 L480.1 388.6 L481.3 388.3 L482.6 388.1 L483.9 388.2 L485.3 388.5 L486.8 389 L488.2 389.7 L489.7 390.5 L491.2 391.5 L492.6 392.7 L494 394.1 L495.4 395.6 L496.7 397.2 L497.9 398.8 L499 400.6 L500 402.5 L500.8 404.4 L501.6 406.3 L502.2 408.2 L502.6 410.1 L502.9 411.9 L503.1 413.7 L503.1 415.4 L502.9 417 L502.6 418.5 L502.2 419.9 L501.6 421.1 L500.8 422.1 L500 423 L499 423.7 L496.2 425.3" style="fill:#fff"/>
<ellipse cx="486.2" cy="408" rx="20" ry="11.5" transform="rotate(60 486.2 408)" style="fill:#fff"/>
<ellipse cx="486" cy="408.1" rx="18.6" ry="10.7" transform="rotate(60 486 408.1)"/>
<path d="M477.2 402 L480.5 400 L489.7 403.3 L493 412.7 L489.7 414.7" style="fill:#fff"/>
<path d="M486.3 405.3 L489.7 403.3"/>
<path d="M470.5 409.5 L477.2 402 L486.3 405.3 L489.7 414.7 L483.3 421.3 L473.7 418.7Z" style="fill:#fff"/>
<path d="M452.5 359.2 L470 359.2 L470 376.7 L479.2 392.5"/>
<text x="433.5" y="364.7" font-size="19.5">1</text>
<ellipse cx="573.5" cy="361.5" rx="58" ry="33.5" transform="rotate(60 573.5 361.5)" style="fill:#fff"/>
<ellipse cx="572.2" cy="362.2" rx="58" ry="33.5" transform="rotate(60 572.2 362.2)" style="fill:#fff"/>
<ellipse cx="570.9" cy="363" rx="58" ry="33.5" transform="rotate(60 570.9 363)" style="fill:#fff"/>
<ellipse cx="563.1" cy="367.5" rx="57.5" ry="33.2" transform="rotate(60 563.1 367.5)" style="fill:#fff"/>
<ellipse cx="556.2" cy="371.5" rx="57.5" ry="33.2" transform="rotate(60 556.2 371.5)" style="fill:#fff"/>
<ellipse cx="550.1" cy="375" rx="57.3" ry="33.1" transform="rotate(60 550.1 375)" style="fill:#fff"/>
<ellipse cx="547.5" cy="376.5" rx="57.3" ry="33.1" transform="rotate(60 547.5 376.5)" style="fill:#fff"/>
<ellipse cx="547.5" cy="376.5" rx="48.3" ry="27.9" transform="rotate(60 547.5 376.5)"/>
<path d="M525.5 333.6 A48.3 27.9 60 0 1 569.5 419.4" stroke-width="2"/>
<ellipse cx="547.5" cy="376.5" rx="46" ry="26.6" transform="rotate(60 547.5 376.5)"/>
<path d="M520.3 346.1 A42.5 24.5 60 1 1 560.2 415.3"/>
<path d="M522.5 348.6 A39 22.5 60 1 1 559.2 412.1"/>
<ellipse cx="544.6" cy="377.6" rx="35.5" ry="20.5" transform="rotate(60 544.6 377.6)"/>
<path d="M554.6 345.8 A26 15 60 1 0 568.5 392.8"/>
<path d="M555.3 347.5 A22 12.7 60 0 0 565.9 387.3"/>
<path d="M505.8 395.8 L557.5 366"/>
<path d="M504.5 287.9 L522.6 287.9 L522.6 304.2 L531.7 320.8"/>
<text x="485" y="293.5" font-size="19.5">2</text>
<path d="M601.7 340.6 L675 298.2"/>
<path d="M610.9 299.3 L615.3 296.8 L617 296.1 L618.8 295.6 L620.8 295.4 L622.9 295.5 L625.1 296 L627.3 296.7 L629.6 297.7 L631.9 299.1 L634.1 300.7 L636.4 302.5 L638.6 304.6 L640.6 306.8 L642.6 309.3 L644.5 311.9 L646.2 314.7 L647.7 317.5 L649.1 320.4 L650.2 323.4 L651.1 326.3 L651.8 329.3 L652.3 332.1 L652.5 334.9 L652.5 337.5 L652.3 340 L651.8 342.3 L651.1 344.4 L650.2 346.3 L649.1 347.9 L647.7 349.3 L646.2 350.4 L641.9 352.9" style="fill:#fff"/>
<ellipse cx="626.4" cy="326.1" rx="30.9" ry="17.8" transform="rotate(60 626.4 326.1)" style="fill:#fff"/>
<ellipse cx="622.2" cy="328.6" rx="22.5" ry="13" transform="rotate(60 622.2 328.6)" style="fill:#fff"/>
<ellipse cx="622.2" cy="328.6" rx="16.7" ry="9.6" transform="rotate(60 622.2 328.6)" style="fill:#fff"/>
<path d="M618.9 311.3 A16.7 9.6 60 0 0 630.6 341.2"/>
<path d="M611 335 L634 321.8"/>
<path d="M607.3 283 L616 298.1"/>
<text x="601.5" y="283" font-size="19.5">3</text>
<path d="M704.4 281.1 L717.8 273.3"/>
<path d="M655.1 275.3 L674.5 264.1 L676.2 263.3 L678 262.8 L680 262.6 L682 262.8 L684.2 263.2 L686.3 263.9 L688.6 264.9 L690.8 266.2 L693.1 267.8 L695.2 269.6 L697.4 271.6 L699.4 273.9 L701.4 276.3 L703.2 278.9 L704.8 281.6 L706.3 284.3 L707.7 287.2 L708.8 290.1 L709.7 293 L710.4 295.8 L710.9 298.6 L711.1 301.4 L711.1 303.9 L710.9 306.4 L710.4 308.7 L709.7 310.7 L708.8 312.6 L707.7 314.1 L706.3 315.5 L704.8 316.5 L685.4 327.7" style="fill:#fff" stroke-width="0" stroke="#fff"/>
<path d="M686.2 327.3 L707.2 314.7" stroke-width="0.6" stroke="#444"/>
<path d="M688.3 325.3 L709 312.2" stroke-width="0.6" stroke="#444"/>
<path d="M690 322.6 L710.3 309.1" stroke-width="0.6" stroke="#444"/>
<path d="M690.5 321.4 L710.6 307.7" stroke-width="0.6" stroke="#444"/>
<path d="M691.1 319.4 L711 305.5" stroke-width="0.6" stroke="#444"/>
<path d="M691.4 318 L711.1 303.9" stroke-width="0.6" stroke="#444"/>
<path d="M691.7 315.7 L711.1 301.5" stroke-width="0.6" stroke="#444"/>
<path d="M691.7 314.1 L711 299.8" stroke-width="0.6" stroke="#444"/>
<path d="M691.6 311.6 L710.6 297.2" stroke-width="0.6" stroke="#444"/>
<path d="M691.5 309.8 L710.3 295.4" stroke-width="0.6" stroke="#444"/>
<path d="M691 307.2 L709.6 292.7" stroke-width="0.6" stroke="#444"/>
<path d="M690.6 305.4 L709 290.8" stroke-width="0.6" stroke="#444"/>
<path d="M689.8 302.7 L708 288.1" stroke-width="0.6" stroke="#444"/>
<path d="M689.2 300.8 L707.3 286.3" stroke-width="0.6" stroke="#444"/>
<path d="M688.1 298.1 L706 283.6" stroke-width="0.6" stroke="#444"/>
<path d="M687.3 296.3 L705 281.8" stroke-width="0.6" stroke="#444"/>
<path d="M685.9 293.6 L703.4 279.3" stroke-width="0.6" stroke="#444"/>
<path d="M684.9 291.9 L702.3 277.6" stroke-width="0.6" stroke="#444"/>
<path d="M683.3 289.4 L700.5 275.2" stroke-width="0.6" stroke="#444"/>
<path d="M682.2 287.8 L699.3 273.7" stroke-width="0.6" stroke="#444"/>
<path d="M680.3 285.4 L697.4 271.6" stroke-width="0.6" stroke="#444"/>
<path d="M679.1 284 L696 270.3" stroke-width="0.6" stroke="#444"/>
<path d="M677.1 282 L694 268.5" stroke-width="0.6" stroke="#444"/>
<path d="M675.7 280.7 L692.6 267.4" stroke-width="0.6" stroke="#444"/>
<path d="M673.7 279 L690.4 266" stroke-width="0.6" stroke="#444"/>
<path d="M672.2 278 L689 265.2" stroke-width="0.6" stroke="#444"/>
<path d="M670.1 276.7 L686.9 264.2" stroke-width="0.6" stroke="#444"/>
<path d="M668.7 275.9 L685.5 263.6" stroke-width="0.6" stroke="#444"/>
<path d="M666.6 275 L683.5 263" stroke-width="0.6" stroke="#444"/>
<path d="M665.2 274.5 L682.1 262.8" stroke-width="0.6" stroke="#444"/>
<path d="M663.2 274.1 L680.2 262.6" stroke-width="0.6" stroke="#444"/>
<path d="M661.9 273.9 L678.9 262.7" stroke-width="0.6" stroke="#444"/>
<path d="M659.9 273.9 L677.1 263" stroke-width="0.6" stroke="#444"/>
<path d="M657 274.4 L674.5 264.1" stroke-width="0.6" stroke="#444"/>
<path d="M654.4 275.7 L672.2 265.9" stroke-width="0.6" stroke="#444"/>
<path d="M705.1 313.1 L705.3 312.8 L707.2 314.7 L708 313.7 L706.7 311.2 L706.8 311 L707 310.7 L709 312.2 L709.6 311 L708 308.7 L708.1 308.3 L708.3 308 L710.3 309.1 L710.6 307.7 L708.9 305.6 L708.9 305.2 L709 304.8 L711 305.5 L711.1 303.9 L709.2 302.1 L709.2 301.6 L709.2 301.2 L711.1 301.5 L711 299.8 L709 298.2 L709 297.7 L708.9 297.3 L710.6 297.2 L710.3 295.4 L708.3 294.2 L708.2 293.7 L708 293.2 L709.6 292.7 L709 290.8 L707.1 290 L706.9 289.5 L706.7 289 L708 288.1 L707.3 286.3 L705.4 285.9 L705.1 285.4 L704.9 284.9 L706 283.6 L705 281.8 L703.2 281.9 L702.9 281.4 L702.7 280.9 L703.4 279.3 L702.3 277.6 L700.7 278.1 L700.4 277.6 L700.1 277.2 L700.5 275.2 L699.3 273.7 L697.9 274.6 L697.6 274.2 L697.2 273.8 L697.4 271.6 L696 270.3 L694.9 271.6 L694.5 271.3 L694.1 270.9 L694 268.5 L692.6 267.4 L691.7 269.1 L691.3 268.8 L691 268.5 L690.4 266 L689 265.2 L688.5 267.1 L688.1 266.9 L687.7 266.7 L686.9 264.2 L685.5 263.6 L685.3 265.8 L684.9 265.7 L684.6 265.6 L683.5 263 L682.1 262.8 L682.2 265.2 L681.9 265.1 L681.5 265.1 L680.2 262.6 L678.9 262.7 L679.4 265.2 L679.1 265.3 L678.7 265.3 L677.1 263 L676 263.4 L676.8 265.9 L676.5 266.1 L676.2 266.2 L674.5 264.1 L673.5 264.8 L674.6 267.3 L674.3 267.5 L674.1 267.8 L672.2 265.9 L671.4 266.9 L672.7 269.4 L672.6 269.6 L672.4 269.9 L670.4 268.4 L669.8 269.6 L671.4 271.9 L671.3 272.3 L671.1 272.6 L669.1 271.5 L668.8 272.9 L670.5 275 L670.5 275.4 L670.4 275.8 L668.4 275.1 L668.3 276.7 L670.2 278.5 L670.2 279 L670.2 279.4 L668.3 279.1 L668.4 280.8 L670.4 282.4 L670.4 282.9 L670.5 283.3 L668.8 283.4 L669.1 285.2 L671.1 286.4 L671.2 286.9 L671.4 287.4 L669.8 287.9 L670.4 289.8 L672.3 290.6 L672.5 291.1 L672.7 291.6 L671.4 292.5 L672.1 294.3 L674 294.7 L674.3 295.2 L674.5 295.7 L673.4 297 L674.4 298.8 L676.2 298.7 L676.5 299.2 L676.7 299.7 L676 301.3 L677.1 303 L678.7 302.5 L679 303 L679.3 303.4 L678.9 305.4 L680.1 306.9 L681.5 306 L681.8 306.4 L682.2 306.8 L682 309 L683.4 310.3 L684.5 309 L684.9 309.3 L685.2 309.7 L685.4 312.1 L686.8 313.2 L687.7 311.5 L688.1 311.8 L688.4 312.1 L689 314.6 L690.4 315.4 L690.9 313.5 L691.3 313.7 L691.7 313.9 L692.5 316.4 L693.9 317 L694.1 314.8 L694.5 314.9 L694.8 315 L695.9 317.6 L697.3 317.8 L697.1 315.4 L697.5 315.5 L697.9 315.5 L699.2 318 L700.5 317.9 L700 315.4 L700.3 315.3 L700.7 315.3 L702.3 317.6 L703.4 317.2 L702.6 314.7 L702.9 314.5 L703.2 314.4 L704.9 316.5 L705.9 315.8 L704.8 313.3Z" stroke-width="0" stroke="none"/>
<path d="M705.1 313.1 L705.3 312.8 L707.2 314.7 L708 313.7 L706.7 311.2 L706.8 311" stroke-width="0.9"/>
<path d="M706.8 311 L707 310.7 L709 312.2 L709.6 311 L708 308.7 L708.1 308.3" stroke-width="0.9"/>
<path d="M708.1 308.3 L708.3 308 L710.3 309.1 L710.6 307.7 L708.9 305.6 L708.9 305.2" stroke-width="0.9"/>
<path d="M708.9 305.2 L709 304.8 L711 305.5 L711.1 303.9 L709.2 302.1 L709.2 301.6" stroke-width="0.9"/>
<path d="M709.2 301.6 L709.2 301.2 L711.1 301.5 L711 299.8 L709 298.2 L709 297.7" stroke-width="0.9"/>
<path d="M709 297.7 L708.9 297.3 L710.6 297.2 L710.3 295.4 L708.3 294.2 L708.2 293.7" stroke-width="0.9"/>
<path d="M708.2 293.7 L708 293.2 L709.6 292.7 L709 290.8 L707.1 290 L706.9 289.5" stroke-width="0.9"/>
<path d="M706.9 289.5 L706.7 289 L708 288.1 L707.3 286.3 L705.4 285.9 L705.1 285.4" stroke-width="0.9"/>
<path d="M705.1 285.4 L704.9 284.9 L706 283.6 L705 281.8 L703.2 281.9 L702.9 281.4" stroke-width="0.9"/>
<path d="M702.9 281.4 L702.7 280.9 L703.4 279.3 L702.3 277.6 L700.7 278.1 L700.4 277.6" stroke-width="0.9"/>
<path d="M700.4 277.6 L700.1 277.2 L700.5 275.2 L699.3 273.7 L697.9 274.6 L697.6 274.2" stroke-width="0.9"/>
<path d="M697.6 274.2 L697.2 273.8 L697.4 271.6 L696 270.3 L694.9 271.6 L694.5 271.3" stroke-width="0.9"/>
<path d="M694.5 271.3 L694.1 270.9 L694 268.5 L692.6 267.4 L691.7 269.1 L691.3 268.8" stroke-width="0.9"/>
<path d="M691.3 268.8 L691 268.5 L690.4 266 L689 265.2 L688.5 267.1 L688.1 266.9" stroke-width="0.9"/>
<path d="M688.1 266.9 L687.7 266.7 L686.9 264.2 L685.5 263.6 L685.3 265.8 L684.9 265.7" stroke-width="0.9"/>
<path d="M684.9 265.7 L684.6 265.6 L683.5 263 L682.1 262.8 L682.2 265.2 L681.9 265.1" stroke-width="0.9"/>
<path d="M681.9 265.1 L681.5 265.1 L680.2 262.6 L678.9 262.7 L679.4 265.2 L679.1 265.3" stroke-width="0.9"/>
<path d="M679.1 265.3 L678.7 265.3 L677.1 263 L676 263.4 L676.8 265.9 L676.5 266.1" stroke-width="0.9"/>
<path d="M676.5 266.1 L676.2 266.2 L674.5 264.1 L673.5 264.8 L674.6 267.3 L674.3 267.5" stroke-width="0.9"/>
<path d="M702.9 314.5 L703.2 314.4 L704.9 316.5 L705.9 315.8 L704.8 313.3 L705.1 313.1" stroke-width="0.9"/>
<path d="M684.1 325.4 L684.4 325.2 L686.2 327.3 L687.1 326.6 L686 324 L686.2 323.8 L686.4 323.5 L688.3 325.3 L689.1 324.3 L687.7 321.8 L687.8 321.5 L688 321.2 L690 322.6 L690.5 321.4 L688.9 319.1 L689 318.7 L689.1 318.4 L691.1 319.4 L691.4 318 L689.6 315.9 L689.7 315.5 L689.7 315 L691.7 315.7 L691.7 314.1 L689.8 312.3 L689.8 311.8 L689.8 311.4 L691.6 311.6 L691.5 309.8 L689.5 308.4 L689.4 307.9 L689.3 307.4 L691 307.2 L690.6 305.4 L688.6 304.3 L688.5 303.8 L688.3 303.3 L689.8 302.7 L689.2 300.8 L687.3 300.1 L687.1 299.6 L686.9 299.1 L688.1 298.1 L687.3 296.3 L685.4 296 L685.2 295.5 L684.9 295 L685.9 293.6 L684.9 291.9 L683.2 292 L682.9 291.6 L682.6 291.1 L683.3 289.4 L682.2 287.8 L680.6 288.3 L680.3 287.9 L680 287.5 L680.3 285.4 L679.1 284 L677.8 285 L677.4 284.6 L677 284.2 L677.1 282 L675.7 280.7 L674.7 282.1 L674.3 281.8 L673.9 281.4 L673.7 279 L672.2 278 L671.5 279.7 L671.1 279.4 L670.7 279.2 L670.1 276.7 L668.7 275.9 L668.3 277.9 L667.9 277.7 L667.5 277.6 L666.6 275 L665.2 274.5 L665.1 276.8 L664.7 276.7 L664.4 276.6 L663.2 274.1 L661.9 273.9 L662.1 276.3 L661.7 276.3 L661.4 276.3 L659.9 273.9 L658.7 274 L659.3 276.5 L659 276.6 L658.6 276.7 L657 274.4 L655.9 274.9 L656.8 277.4 L656.5 277.6 L656.2 277.8 L654.4 275.7 L653.5 276.4 L654.6 279 L654.4 279.2 L654.2 279.5 L652.3 277.7 L651.5 278.7 L652.9 281.2 L652.8 281.5 L652.6 281.8 L650.6 280.4 L650.1 281.6 L651.7 283.9 L651.6 284.3 L651.5 284.6 L649.5 283.6 L649.2 285 L651 287.1 L650.9 287.5 L650.9 288 L648.9 287.3 L648.9 288.9 L650.8 290.7 L650.8 291.2 L650.8 291.6 L649 291.4 L649.1 293.2 L651.1 294.6 L651.2 295.1 L651.3 295.6 L649.6 295.8 L650 297.6 L652 298.7 L652.1 299.2 L652.3 299.7 L650.8 300.3 L651.4 302.2 L653.3 302.9 L653.5 303.4 L653.7 303.9 L652.5 304.9 L653.3 306.7 L655.2 307 L655.4 307.5 L655.7 308 L654.7 309.4 L655.7 311.1 L657.4 311 L657.7 311.4 L658 311.9 L657.3 313.6 L658.4 315.2 L660 314.7 L660.3 315.1 L660.6 315.5 L660.3 317.6 L661.5 319 L662.8 318 L663.2 318.4 L663.6 318.8 L663.5 321 L664.9 322.3 L665.9 320.9 L666.3 321.2 L666.7 321.6 L666.9 324 L668.4 325 L669.1 323.3 L669.5 323.6 L669.9 323.8 L670.5 326.3 L671.9 327.1 L672.3 325.1 L672.7 325.3 L673.1 325.4 L674 328 L675.4 328.5 L675.5 326.2 L675.9 326.3 L676.2 326.4 L677.4 328.9 L678.7 329.1 L678.5 326.7 L678.9 326.7 L679.2 326.7 L680.7 329.1 L681.9 329 L681.3 326.5 L681.6 326.4 L682 326.3 L683.6 328.6 L684.7 328.1 L683.8 325.6Z" style="fill:#fff" stroke-width="1"/>
<ellipse cx="670.3" cy="301.5" rx="19.2" ry="11.1" transform="rotate(60 670.3 301.5)"/>
<path d="M664.8 283.7 L664.8 281.7 L668.3 281 L668.5 283.2" style="fill:#fff"/>
<path d="M680.4 273.5 A19.2 11.1 60 0 0 686.2 303.4"/>
<path d="M646.7 314.4 L675.6 297.8"/>
<path d="M665 196.7 L646.7 196.7 L646.7 250.8 L660 272.5"/>
<text x="666.5" y="200.3" font-size="19.5">4</text>
<path d="M705.8 228 L706.7 232 L711.3 231 L733.7 217 L733.3 213 L728.7 213.5 L705.8 228" style="fill:#fff"/>
<path d="M705.8 228 L711 227 L733.3 213"/>
<path d="M711 227 L711.3 231"/>
<path d="M710 202.5 L717.5 218.3"/>
<text x="704.5" y="202.5" font-size="19.5">5</text>
<path d="M1145.9 334.9 A37.6 21.7 60 1 1 1183.3 399.8"/>
<ellipse cx="1165.2" cy="367" rx="37.6" ry="21.7" transform="rotate(60 1165.2 367)" style="fill:#fff"/>
<ellipse cx="1165.2" cy="367" rx="19.8" ry="11.4" transform="rotate(60 1165.2 367)"/>
<ellipse cx="1184" cy="368.9" rx="4.6" ry="2.7" transform="rotate(60 1184 368.9)"/>
<ellipse cx="1173" cy="349.8" rx="4.6" ry="2.7" transform="rotate(60 1173 349.8)"/>
<ellipse cx="1157.4" cy="340.8" rx="4.6" ry="2.7" transform="rotate(60 1157.4 340.8)"/>
<ellipse cx="1146.4" cy="347.2" rx="4.6" ry="2.7" transform="rotate(60 1146.4 347.2)"/>
<ellipse cx="1146.4" cy="365.1" rx="4.6" ry="2.7" transform="rotate(60 1146.4 365.1)"/>
<ellipse cx="1157.4" cy="384.2" rx="4.6" ry="2.7" transform="rotate(60 1157.4 384.2)"/>
<ellipse cx="1173" cy="393.2" rx="4.6" ry="2.7" transform="rotate(60 1173 393.2)"/>
<ellipse cx="1184" cy="386.8" rx="4.6" ry="2.7" transform="rotate(60 1184 386.8)"/>
<path d="M1164.2 331.8 L1165.5 330 L1168.8 331.2 L1168.8 333.8"/>
<path d="M1143 377 L1170.6 361"/>
<path d="M1183.5 353.6 L1193 348.1"/>
<path d="M1138 317.5 L1146.8 333.8"/>
<text x="1124.5" y="312.5" font-size="19.5">20</text>
<path d="M1169.9 333.7 L1188.8 323"/>
<path d="M1217.4 309.3 L1211.8 302.3 L1206.2 302.8 L1206.2 310.4 L1211.8 317.4 L1217.4 316.9Z" style="fill:#fff"/>
<path d="M1210.9 313.1 L1205.3 306.1 L1199.7 306.6 L1199.7 314.1 L1205.3 321.1 L1210.9 320.6 L1217.4 316.9 L1211.8 317.4 L1206.2 310.4 L1206.2 302.8 L1211.8 302.3 L1217.4 309.3" style="fill:#fff" stroke-width="0" stroke="#fff"/>
<path d="M1210.9 313.1 L1217.4 309.3"/>
<path d="M1205.3 306.1 L1211.8 302.3"/>
<path d="M1199.7 306.6 L1206.2 302.8"/>
<path d="M1199.7 314.1 L1206.2 310.4"/>
<path d="M1205.3 321.1 L1211.8 317.4"/>
<path d="M1210.9 320.6 L1217.4 316.9"/>
<path d="M1210.9 313.1 L1205.3 306.1 L1199.7 306.6 L1199.7 314.1 L1205.3 321.1 L1210.9 320.6Z" style="fill:#fff"/>
<path d="M1198.8 306.3 L1200.5 305.3 L1200.9 305.1 L1201.3 305 L1201.7 304.9 L1202.2 304.8 L1202.7 304.9 L1203.2 304.9 L1203.7 305.1 L1204.2 305.2 L1204.8 305.5 L1205.3 305.8 L1205.8 306.1 L1206.4 306.5 L1206.9 306.9 L1207.4 307.4 L1207.9 307.9 L1208.4 308.4 L1208.8 309 L1209.3 309.6 L1209.7 310.2 L1210.1 310.8 L1210.5 311.5 L1210.8 312.2 L1211.1 312.8 L1211.3 313.5 L1211.6 314.2 L1211.7 314.9 L1211.9 315.6 L1212 316.2 L1212.1 316.9 L1212.1 317.5 L1212.1 318.1 L1212 318.7 L1211.9 319.2 L1211.7 319.7 L1211.6 320.2 L1211.3 320.7 L1211.1 321 L1210.8 321.4 L1210.5 321.7 L1210.1 321.9 L1208.4 322.9" style="fill:#fff"/>
<ellipse cx="1203.6" cy="314.6" rx="9.6" ry="5.5" transform="rotate(60 1203.6 314.6)" style="fill:#fff"/>
<path d="M1189.8 316.8 L1201.1 310.3 L1201.3 310.2 L1201.5 310.1 L1201.7 310.1 L1202 310 L1202.2 310 L1202.5 310.1 L1202.7 310.2 L1203 310.2 L1203.3 310.4 L1203.6 310.5 L1203.8 310.7 L1204.1 310.9 L1204.4 311.1 L1204.7 311.3 L1204.9 311.6 L1205.2 311.9 L1205.4 312.2 L1205.6 312.5 L1205.9 312.8 L1206.1 313.2 L1206.2 313.5 L1206.4 313.9 L1206.6 314.2 L1206.7 314.6 L1206.8 314.9 L1206.9 315.3 L1207 315.6 L1207.1 316 L1207.1 316.3 L1207.1 316.6 L1207.1 317 L1207.1 317.3 L1207 317.5 L1206.9 317.8 L1206.8 318 L1206.7 318.3 L1206.6 318.5 L1206.4 318.7 L1206.2 318.8 L1206.1 318.9 L1194.8 325.4" style="fill:#fff"/>
<ellipse cx="1192.3" cy="321.1" rx="5" ry="2.9" transform="rotate(60 1192.3 321.1)" style="fill:#fff"/>
<path d="M1191.3 315.9 A5 2.9 60 1 1 1196.3 324.5"/>
<path d="M1193.1 314.9 A5 2.9 60 1 1 1198 323.5"/>
<path d="M1194.8 313.9 A5 2.9 60 1 1 1199.8 322.5"/>
<path d="M1196.5 312.9 A5 2.9 60 1 1 1201.5 321.5"/>
<path d="M1198.3 311.9 A5 2.9 60 1 1 1203.2 320.5"/>
<path d="M1200 310.9 A5 2.9 60 1 1 1205 319.5"/>
<ellipse cx="1192.3" cy="321.1" rx="3.6" ry="2.1" transform="rotate(60 1192.3 321.1)"/>
<path d="M1188.8 295.9 L1196.3 309.5"/>
<text x="1179" y="294.2" font-size="19.5">19</text>
<path d="M1056.8 325 L1089.3 306.3"/>
<path d="M1089 302.9 L1102 295.4 L1102.2 295.3 L1102.3 295.3 L1102.4 295.3 L1102.6 295.3 L1102.7 295.3 L1102.9 295.3 L1103 295.3 L1103.2 295.4 L1103.3 295.4 L1103.5 295.5 L1103.7 295.6 L1103.8 295.7 L1104 295.9 L1104.1 296 L1104.3 296.2 L1104.4 296.3 L1104.6 296.5 L1104.7 296.7 L1104.8 296.9 L1104.9 297.1 L1105 297.3 L1105.1 297.5 L1105.2 297.7 L1105.3 297.9 L1105.4 298.1 L1105.4 298.3 L1105.5 298.5 L1105.5 298.7 L1105.5 298.9 L1105.5 299.1 L1105.5 299.3 L1105.5 299.4 L1105.5 299.6 L1105.4 299.8 L1105.4 299.9 L1105.3 300 L1105.2 300.1 L1105.1 300.2 L1105 300.3 L1104.9 300.4 L1092 307.9" style="fill:#fff"/>
<ellipse cx="1090.5" cy="305.4" rx="2.9" ry="1.7" transform="rotate(60 1090.5 305.4)" style="fill:#fff"/>
<path d="M1090.5 282.5 L1098 296.3"/>
<text x="1076.5" y="281" font-size="19.5">21</text>
<path d="M1120.5 390 L1145 375.8"/>
<path d="M979.6 336.8 L1001.3 324.3 L1006 322 L1011.1 320.3 L1016.4 319.2 L1022.1 318.8 L1028 319.1 L1034 320 L1040.2 321.6 L1046.6 323.8 L1053 326.6 L1059.5 330.1 L1065.9 334.1 L1072.3 338.7 L1078.7 343.8 L1084.9 349.4 L1090.9 355.5 L1096.8 362 L1102.5 368.9 L1107.8 376.1 L1112.9 383.7 L1117.7 391.5 L1122 399.5 L1126 407.7 L1129.6 416 L1132.8 424.3 L1135.5 432.6 L1137.7 440.9 L1139.5 449.1 L1140.7 457.2 L1141.5 465 L1141.8 472.6 L1141.5 479.9 L1140.7 486.9 L1139.5 493.5 L1137.7 499.7 L1135.5 505.4 L1132.8 510.6 L1129.6 515.3 L1126 519.4 L1122 523 L1117.7 525.9 L1096 538.4" style="fill:#fff"/>
<ellipse cx="1037.8" cy="437.6" rx="116.4" ry="67.2" transform="rotate(60 1037.8 437.6)" style="fill:#fff"/>
<ellipse cx="1039.5" cy="439.5" rx="102.3" ry="59.1" transform="rotate(60 1039.5 439.5)"/>
<path d="M973.9 366.3 A102.3 59.1 60 1 1 1058.2 531" stroke-width="1.9"/>
<path d="M999.1 346.5 A102.3 59.1 60 1 1 1071.2 532.2"/>
<ellipse cx="1037.6" cy="441.5" rx="94" ry="54.3" transform="rotate(60 1037.6 441.5)"/>
<ellipse cx="1035" cy="442" rx="85.5" ry="49.4" transform="rotate(60 1035 442)"/>
<path d="M986.3 373 A85.5 49.4 60 0 0 1051.4 518.1"/>
<path d="M1025 380 L1036.8 383.8 L1039.8 388.8 L1039.8 403 L1026 393.8Z"/>
<path d="M1026 393.8 L1037.2 387.2 L1036.8 383.8"/>
<path d="M1037.2 387.2 L1039.8 388.8"/>
<path d="M1025 480.3 L1036.8 484.1 L1039.8 489.1 L1039.8 503.3 L1026 494.1Z"/>
<path d="M1026 494.1 L1037.2 487.5 L1036.8 484.1"/>
<path d="M1037.2 487.5 L1039.8 489.1"/>
<path d="M1005.2 407.1 A43.7 25.2 60 1 1 1048.7 482.5" stroke-width="1.8"/>
<ellipse cx="1027.5" cy="444.5" rx="43.7" ry="25.2" transform="rotate(60 1027.5 444.5)" style="fill:#fff"/>
<ellipse cx="1027.5" cy="444.5" rx="39.5" ry="22.8" transform="rotate(60 1027.5 444.5)"/>
<ellipse cx="1027.5" cy="444.5" rx="35.5" ry="20.5" transform="rotate(60 1027.5 444.5)"/>
<ellipse cx="1045.9" cy="445.9" rx="4.3" ry="2.5" transform="rotate(60 1045.9 445.9)"/>
<ellipse cx="1035.6" cy="428.1" rx="4.3" ry="2.5" transform="rotate(60 1035.6 428.1)"/>
<ellipse cx="1021" cy="419.7" rx="4.3" ry="2.5" transform="rotate(60 1021 419.7)"/>
<ellipse cx="1010.7" cy="425.6" rx="4.3" ry="2.5" transform="rotate(60 1010.7 425.6)"/>
<ellipse cx="1010.7" cy="442.5" rx="4.3" ry="2.5" transform="rotate(60 1010.7 442.5)"/>
<ellipse cx="1021" cy="460.3" rx="4.3" ry="2.5" transform="rotate(60 1021 460.3)"/>
<ellipse cx="1035.6" cy="468.7" rx="4.3" ry="2.5" transform="rotate(60 1035.6 468.7)"/>
<ellipse cx="1045.9" cy="462.8" rx="4.3" ry="2.5" transform="rotate(60 1045.9 462.8)"/>
<ellipse cx="1028.5" cy="443.2" rx="18.2" ry="10.5" transform="rotate(60 1028.5 443.2)"/>
<path d="M1033.6 426.5 A15.5 8.9 60 1 0 1037.4 453.6"/>
<path d="M1105.5 551.3 L1096.8 537.5"/>
<path d="M1105.5 551.3 L1125.5 551.3"/>
<text x="1126.5" y="558" font-size="19.5">22</text>
<path d="M846.5 415.7 L853.3 411.8 L856.5 410.1 L860 408.7 L863.5 407.6 L867.2 406.8 L871.1 406.3 L875 406.1 L879.1 406.2 L883.2 406.6 L887.4 407.3 L891.7 408.3 L896.1 409.6 L900.5 411.2 L905 413.1 L909.5 415.3 L913.9 417.8 L918.4 420.5 L922.9 423.5 L927.4 426.7 L931.8 430.2 L936.1 434 L940.4 437.9 L944.7 442.1 L948.8 446.5 L952.9 451 L956.8 455.8 L960.7 460.7 L964.4 465.8 L967.9 471 L971.3 476.3 L974.6 481.8 L977.7 487.3 L980.6 493 L983.3 498.6 L985.9 504.4 L988.2 510.2 L990.4 516 L992.3 521.8 L994 527.5 L995.5 533.3 L996.8 539 L997.8 544.6 L998.7 550.2 L999.2 555.7 L999.6 561.1 L999.7 566.3 L999.6 571.4 L999.2 576.4 L998.7 581.2 L997.8 585.8 L996.8 590.3 L995.5 594.5 L994 598.5 L992.3 602.3 L990.4 605.9 L988.2 609.2 L985.9 612.3 L983.3 615.1 L980.6 617.6 L977.7 619.9 L974.6 621.8 L967.8 625.8 L967.8 625.8 L970.8 623.8 L973.8 621.6 L976.5 619 L979 616.2 L981.4 613.2 L983.5 609.8 L985.5 606.3 L987.2 602.5 L988.7 598.5 L989.9 594.2 L991 589.8 L991.8 585.2 L992.4 580.4 L992.8 575.4 L992.9 570.3 L992.8 565 L992.4 559.6 L991.8 554.2 L991 548.6 L989.9 542.9 L988.7 537.2 L987.2 531.5 L985.5 525.7 L983.5 519.9 L981.4 514.1 L979 508.3 L976.5 502.6 L973.8 496.9 L970.8 491.3 L967.8 485.7 L964.5 480.3 L961.1 474.9 L957.5 469.7 L953.8 464.7 L950 459.7 L946 455 L942 450.4 L937.8 446 L933.6 441.9 L929.3 437.9 L924.9 434.2 L920.5 430.7 L916.1 427.4 L911.6 424.4 L907.1 421.7 L902.6 419.3 L898.1 417.1 L893.7 415.2 L889.3 413.6 L884.9 412.3 L880.6 411.3 L876.4 410.5 L872.2 410.1 L868.2 410 L864.2 410.2 L860.4 410.7 L856.7 411.5 L853.1 412.6 L849.7 414 L846.5 415.7Z" style="fill:#fff" stroke-width="0" stroke="#fff"/>
<path d="M968.3 625.5 L975.2 621.5" stroke-width="0.8"/>
<path d="M969.5 624.7 L976.4 620.8" stroke-width="0.8"/>
<path d="M975.2 621.5 L976.4 620.8" stroke-width="0.8"/>
<path d="M974.3 617.3 L975.4 616.6" stroke-width="0.7"/>
<path d="M970.7 624 L977.5 620" stroke-width="0.8"/>
<path d="M971.8 623.1 L978.6 619.2" stroke-width="0.8"/>
<path d="M977.5 620 L978.6 619.2" stroke-width="0.8"/>
<path d="M976.5 615.8 L977.5 615" stroke-width="0.7"/>
<path d="M972.9 622.3 L979.7 618.3" stroke-width="0.8"/>
<path d="M973.9 621.4 L980.8 617.5" stroke-width="0.8"/>
<path d="M979.7 618.3 L980.8 617.5" stroke-width="0.8"/>
<path d="M978.6 614.1 L979.6 613.2" stroke-width="0.7"/>
<path d="M975 620.5 L981.8 616.5" stroke-width="0.8"/>
<path d="M976 619.5 L982.8 615.6" stroke-width="0.8"/>
<path d="M981.8 616.5 L982.8 615.6" stroke-width="0.8"/>
<path d="M980.6 612.3 L981.5 611.3" stroke-width="0.7"/>
<path d="M977 618.5 L983.8 614.6" stroke-width="0.8"/>
<path d="M977.9 617.5 L984.8 613.5" stroke-width="0.8"/>
<path d="M983.8 614.6 L984.8 613.5" stroke-width="0.8"/>
<path d="M982.5 610.3 L983.4 609.3" stroke-width="0.7"/>
<path d="M978.9 616.4 L985.7 612.5" stroke-width="0.8"/>
<path d="M979.8 615.3 L986.6 611.3" stroke-width="0.8"/>
<path d="M985.7 612.5 L986.6 611.3" stroke-width="0.8"/>
<path d="M984.2 608.2 L985.1 607.1" stroke-width="0.7"/>
<path d="M980.7 614.1 L987.5 610.2" stroke-width="0.8"/>
<path d="M981.5 613 L988.4 609" stroke-width="0.8"/>
<path d="M987.5 610.2 L988.4 609" stroke-width="0.8"/>
<path d="M985.9 606 L986.7 604.8" stroke-width="0.7"/>
<path d="M982.3 611.7 L989.2 607.8" stroke-width="0.8"/>
<path d="M983.1 610.5 L990 606.5" stroke-width="0.8"/>
<path d="M989.2 607.8 L990 606.5" stroke-width="0.8"/>
<path d="M987.5 603.6 L988.2 602.3" stroke-width="0.7"/>
<path d="M983.9 609.2 L990.7 605.2" stroke-width="0.8"/>
<path d="M984.6 607.9 L991.5 603.9" stroke-width="0.8"/>
<path d="M990.7 605.2 L991.5 603.9" stroke-width="0.8"/>
<path d="M988.9 601 L989.6 599.7" stroke-width="0.7"/>
<path d="M985.3 606.5 L992.2 602.6" stroke-width="0.8"/>
<path d="M986 605.1 L992.9 601.2" stroke-width="0.8"/>
<path d="M992.2 602.6 L992.9 601.2" stroke-width="0.8"/>
<path d="M990.3 598.4 L990.9 597" stroke-width="0.7"/>
<path d="M986.7 603.7 L993.5 599.7" stroke-width="0.8"/>
<path d="M987.3 602.2 L994.1 598.3" stroke-width="0.8"/>
<path d="M993.5 599.7 L994.1 598.3" stroke-width="0.8"/>
<path d="M991.5 595.6 L992 594.2" stroke-width="0.7"/>
<path d="M987.9 600.7 L994.7 596.8" stroke-width="0.8"/>
<path d="M988.4 599.2 L995.3 595.3" stroke-width="0.8"/>
<path d="M994.7 596.8 L995.3 595.3" stroke-width="0.8"/>
<path d="M992.6 592.7 L993.1 591.2" stroke-width="0.7"/>
<path d="M988.9 597.7 L995.8 593.7" stroke-width="0.8"/>
<path d="M989.4 596.1 L996.3 592.1" stroke-width="0.8"/>
<path d="M995.8 593.7 L996.3 592.1" stroke-width="0.8"/>
<path d="M993.5 589.7 L994 588.1" stroke-width="0.7"/>
<path d="M989.9 594.5 L996.7 590.5" stroke-width="0.8"/>
<path d="M990.3 592.9 L997.1 588.9" stroke-width="0.8"/>
<path d="M996.7 590.5 L997.1 588.9" stroke-width="0.8"/>
<path d="M994.4 586.5 L994.8 584.9" stroke-width="0.7"/>
<path d="M990.7 591.2 L997.5 587.2" stroke-width="0.8"/>
<path d="M991.1 589.5 L997.9 585.5" stroke-width="0.8"/>
<path d="M997.5 587.2 L997.9 585.5" stroke-width="0.8"/>
<path d="M995.1 583.3 L995.4 581.6" stroke-width="0.7"/>
<path d="M991.4 587.8 L998.2 583.8" stroke-width="0.8"/>
<path d="M991.7 586 L998.5 582.1" stroke-width="0.8"/>
<path d="M998.2 583.8 L998.5 582.1" stroke-width="0.8"/>
<path d="M995.7 579.9 L996 578.2" stroke-width="0.7"/>
<path d="M991.9 584.3 L998.8 580.3" stroke-width="0.8"/>
<path d="M992.2 582.5 L999 578.5" stroke-width="0.8"/>
<path d="M998.8 580.3 L999 578.5" stroke-width="0.8"/>
<path d="M996.2 576.5 L996.4 574.7" stroke-width="0.7"/>
<path d="M992.4 580.7 L999.2 576.7" stroke-width="0.8"/>
<path d="M992.5 578.8 L999.4 574.9" stroke-width="0.8"/>
<path d="M999.2 576.7 L999.4 574.9" stroke-width="0.8"/>
<path d="M996.6 573 L996.7 571.2" stroke-width="0.7"/>
<path d="M992.7 577 L999.5 573" stroke-width="0.8"/>
<path d="M992.8 575.1 L999.6 571.1" stroke-width="0.8"/>
<path d="M999.5 573 L999.6 571.1" stroke-width="0.8"/>
<path d="M996.8 569.3 L996.8 567.5" stroke-width="0.7"/>
<path d="M992.8 573.2 L999.7 569.2" stroke-width="0.8"/>
<path d="M992.9 571.2 L999.7 567.3" stroke-width="0.8"/>
<path d="M999.7 569.2 L999.7 567.3" stroke-width="0.8"/>
<path d="M996.9 565.6 L996.9 563.7" stroke-width="0.7"/>
<path d="M992.9 569.3 L999.7 565.3" stroke-width="0.8"/>
<path d="M992.8 567.3 L999.7 563.4" stroke-width="0.8"/>
<path d="M999.7 565.3 L999.7 563.4" stroke-width="0.8"/>
<path d="M996.8 561.8 L996.8 559.9" stroke-width="0.7"/>
<path d="M992.8 565.4 L999.6 561.4" stroke-width="0.8"/>
<path d="M992.7 563.4 L999.5 559.4" stroke-width="0.8"/>
<path d="M999.6 561.4 L999.5 559.4" stroke-width="0.8"/>
<path d="M996.7 558 L996.6 556" stroke-width="0.7"/>
<path d="M992.5 561.3 L999.4 557.4" stroke-width="0.8"/>
<path d="M992.4 559.3 L999.2 555.4" stroke-width="0.8"/>
<path d="M999.4 557.4 L999.2 555.4" stroke-width="0.8"/>
<path d="M996.4 554.1 L996.2 552.1" stroke-width="0.7"/>
<path d="M992.2 557.3 L999 553.3" stroke-width="0.8"/>
<path d="M991.9 555.2 L998.8 551.3" stroke-width="0.8"/>
<path d="M999 553.3 L998.8 551.3" stroke-width="0.8"/>
<path d="M996 550.1 L995.7 548.1" stroke-width="0.7"/>
<path d="M991.7 553.1 L998.5 549.2" stroke-width="0.8"/>
<path d="M991.4 551 L998.2 547.1" stroke-width="0.8"/>
<path d="M998.5 549.2 L998.2 547.1" stroke-width="0.8"/>
<path d="M995.4 546.1 L995.1 544.1" stroke-width="0.7"/>
<path d="M991.1 548.9 L997.9 545" stroke-width="0.8"/>
<path d="M990.7 546.8 L997.5 542.9" stroke-width="0.8"/>
<path d="M997.9 545 L997.5 542.9" stroke-width="0.8"/>
<path d="M994.8 542 L994.4 540" stroke-width="0.7"/>
<path d="M990.3 544.7 L997.1 540.8" stroke-width="0.8"/>
<path d="M989.9 542.6 L996.7 538.6" stroke-width="0.8"/>
<path d="M997.1 540.8 L996.7 538.6" stroke-width="0.8"/>
<path d="M994 537.9 L993.5 535.9" stroke-width="0.7"/>
<path d="M989.4 540.5 L996.3 536.5" stroke-width="0.8"/>
<path d="M988.9 538.3 L995.8 534.4" stroke-width="0.8"/>
<path d="M996.3 536.5 L995.8 534.4" stroke-width="0.8"/>
<path d="M993.1 533.8 L992.6 531.7" stroke-width="0.7"/>
<path d="M988.4 536.2 L995.3 532.2" stroke-width="0.8"/>
<path d="M987.9 534 L994.7 530.1" stroke-width="0.8"/>
<path d="M995.3 532.2 L994.7 530.1" stroke-width="0.8"/>
<path d="M992 529.6 L991.5 527.5" stroke-width="0.7"/>
<path d="M987.3 531.8 L994.1 527.9" stroke-width="0.8"/>
<path d="M986.7 529.7 L993.5 525.7" stroke-width="0.8"/>
<path d="M994.1 527.9 L993.5 525.7" stroke-width="0.8"/>
<path d="M990.9 525.4 L990.3 523.3" stroke-width="0.7"/>
<path d="M986 527.5 L992.9 523.6" stroke-width="0.8"/>
<path d="M985.3 525.3 L992.2 521.4" stroke-width="0.8"/>
<path d="M992.9 523.6 L992.2 521.4" stroke-width="0.8"/>
<path d="M989.6 521.2 L988.9 519.1" stroke-width="0.7"/>
<path d="M984.6 523.2 L991.5 519.2" stroke-width="0.8"/>
<path d="M983.9 521 L990.7 517" stroke-width="0.8"/>
<path d="M991.5 519.2 L990.7 517" stroke-width="0.8"/>
<path d="M988.2 517 L987.5 514.9" stroke-width="0.7"/>
<path d="M983.1 518.8 L990 514.9" stroke-width="0.8"/>
<path d="M982.3 516.6 L989.2 512.7" stroke-width="0.8"/>
<path d="M990 514.9 L989.2 512.7" stroke-width="0.8"/>
<path d="M986.7 512.8 L985.9 510.7" stroke-width="0.7"/>
<path d="M981.5 514.5 L988.4 510.5" stroke-width="0.8"/>
<path d="M980.7 512.3 L987.5 508.4" stroke-width="0.8"/>
<path d="M988.4 510.5 L987.5 508.4" stroke-width="0.8"/>
<path d="M985.1 508.6 L984.2 506.5" stroke-width="0.7"/>
<path d="M979.8 510.1 L986.6 506.2" stroke-width="0.8"/>
<path d="M978.9 508 L985.7 504" stroke-width="0.8"/>
<path d="M986.6 506.2 L985.7 504" stroke-width="0.8"/>
<path d="M983.4 504.5 L982.5 502.4" stroke-width="0.7"/>
<path d="M977.9 505.8 L984.8 501.9" stroke-width="0.8"/>
<path d="M977 503.7 L983.8 499.7" stroke-width="0.8"/>
<path d="M984.8 501.9 L983.8 499.7" stroke-width="0.8"/>
<path d="M981.5 500.3 L980.6 498.2" stroke-width="0.7"/>
<path d="M976 501.5 L982.8 497.6" stroke-width="0.8"/>
<path d="M975 499.4 L981.8 495.4" stroke-width="0.8"/>
<path d="M982.8 497.6 L981.8 495.4" stroke-width="0.8"/>
<path d="M979.6 496.1 L978.6 494.1" stroke-width="0.7"/>
<path d="M973.9 497.3 L980.8 493.3" stroke-width="0.8"/>
<path d="M972.9 495.1 L979.7 491.2" stroke-width="0.8"/>
<path d="M980.8 493.3 L979.7 491.2" stroke-width="0.8"/>
<path d="M977.5 492 L976.5 490" stroke-width="0.7"/>
<path d="M971.8 493 L978.6 489.1" stroke-width="0.8"/>
<path d="M970.7 490.9 L977.5 487" stroke-width="0.8"/>
<path d="M978.6 489.1 L977.5 487" stroke-width="0.8"/>
<path d="M975.4 488 L974.3 485.9" stroke-width="0.7"/>
<path d="M969.5 488.8 L976.4 484.9" stroke-width="0.8"/>
<path d="M968.3 486.8 L975.2 482.8" stroke-width="0.8"/>
<path d="M976.4 484.9 L975.2 482.8" stroke-width="0.8"/>
<path d="M973.2 483.9 L972 481.9" stroke-width="0.7"/>
<path d="M967.2 484.7 L974 480.8" stroke-width="0.8"/>
<path d="M965.9 482.7 L972.8 478.7" stroke-width="0.8"/>
<path d="M974 480.8 L972.8 478.7" stroke-width="0.8"/>
<path d="M970.8 480 L969.6 478" stroke-width="0.7"/>
<path d="M964.7 480.6 L971.5 476.7" stroke-width="0.8"/>
<path d="M963.4 478.6 L970.3 474.7" stroke-width="0.8"/>
<path d="M971.5 476.7 L970.3 474.7" stroke-width="0.8"/>
<path d="M968.4 476 L967.2 474.1" stroke-width="0.7"/>
<path d="M962.2 476.6 L969 472.7" stroke-width="0.8"/>
<path d="M960.9 474.6 L967.7 470.7" stroke-width="0.8"/>
<path d="M969 472.7 L967.7 470.7" stroke-width="0.8"/>
<path d="M965.9 472.2 L964.6 470.3" stroke-width="0.7"/>
<path d="M959.5 472.6 L966.4 468.7" stroke-width="0.8"/>
<path d="M958.2 470.7 L965 466.7" stroke-width="0.8"/>
<path d="M966.4 468.7 L965 466.7" stroke-width="0.8"/>
<path d="M963.4 468.4 L962 466.5" stroke-width="0.7"/>
<path d="M956.8 468.8 L963.7 464.8" stroke-width="0.8"/>
<path d="M955.5 466.9 L962.3 462.9" stroke-width="0.8"/>
<path d="M963.7 464.8 L962.3 462.9" stroke-width="0.8"/>
<path d="M960.7 464.7 L959.3 462.9" stroke-width="0.7"/>
<path d="M954 465 L960.9 461" stroke-width="0.8"/>
<path d="M952.6 463.1 L959.5 459.2" stroke-width="0.8"/>
<path d="M960.9 461 L959.5 459.2" stroke-width="0.8"/>
<path d="M958 461.1 L956.6 459.3" stroke-width="0.7"/>
<path d="M951.2 461.3 L958 457.3" stroke-width="0.8"/>
<path d="M949.7 459.4 L956.6 455.5" stroke-width="0.8"/>
<path d="M958 457.3 L956.6 455.5" stroke-width="0.8"/>
<path d="M955.2 457.5 L953.8 455.8" stroke-width="0.7"/>
<path d="M948.3 457.6 L955.1 453.7" stroke-width="0.8"/>
<path d="M946.8 455.9 L953.6 451.9" stroke-width="0.8"/>
<path d="M955.1 453.7 L953.6 451.9" stroke-width="0.8"/>
<path d="M952.3 454.1 L950.9 452.4" stroke-width="0.7"/>
<path d="M945.3 454.1 L952.1 450.2" stroke-width="0.8"/>
<path d="M943.8 452.4 L950.6 448.4" stroke-width="0.8"/>
<path d="M952.1 450.2 L950.6 448.4" stroke-width="0.8"/>
<path d="M949.4 450.7 L947.9 449.1" stroke-width="0.7"/>
<path d="M942.2 450.7 L949.1 446.7" stroke-width="0.8"/>
<path d="M940.7 449 L947.5 445.1" stroke-width="0.8"/>
<path d="M949.1 446.7 L947.5 445.1" stroke-width="0.8"/>
<path d="M946.4 447.4 L944.9 445.9" stroke-width="0.7"/>
<path d="M939.1 447.4 L946 443.4" stroke-width="0.8"/>
<path d="M937.6 445.8 L944.4 441.8" stroke-width="0.8"/>
<path d="M946 443.4 L944.4 441.8" stroke-width="0.8"/>
<path d="M943.4 444.3 L941.9 442.8" stroke-width="0.7"/>
<path d="M936 444.2 L942.8 440.2" stroke-width="0.8"/>
<path d="M934.4 442.6 L941.2 438.7" stroke-width="0.8"/>
<path d="M942.8 440.2 L941.2 438.7" stroke-width="0.8"/>
<path d="M940.3 441.3 L938.8 439.8" stroke-width="0.7"/>
<path d="M932.8 441.1 L939.6 437.2" stroke-width="0.8"/>
<path d="M931.2 439.6 L938 435.7" stroke-width="0.8"/>
<path d="M939.6 437.2 L938 435.7" stroke-width="0.8"/>
<path d="M937.2 438.3 L935.7 436.9" stroke-width="0.7"/>
<path d="M929.6 438.1 L936.4 434.2" stroke-width="0.8"/>
<path d="M927.9 436.7 L934.8 432.8" stroke-width="0.8"/>
<path d="M936.4 434.2 L934.8 432.8" stroke-width="0.8"/>
<path d="M934.1 435.5 L932.5 434.2" stroke-width="0.7"/>
<path d="M926.3 435.3 L933.1 431.4" stroke-width="0.8"/>
<path d="M924.7 433.9 L931.5 430" stroke-width="0.8"/>
<path d="M933.1 431.4 L931.5 430" stroke-width="0.8"/>
<path d="M930.9 432.9 L929.3 431.6" stroke-width="0.7"/>
<path d="M923 432.6 L929.8 428.7" stroke-width="0.8"/>
<path d="M921.3 431.3 L928.2 427.4" stroke-width="0.8"/>
<path d="M929.8 428.7 L928.2 427.4" stroke-width="0.8"/>
<path d="M927.7 430.3 L926.1 429.1" stroke-width="0.7"/>
<path d="M919.7 430 L926.5 426.1" stroke-width="0.8"/>
<path d="M918 428.8 L924.9 424.9" stroke-width="0.8"/>
<path d="M926.5 426.1 L924.9 424.9" stroke-width="0.8"/>
<path d="M924.5 427.9 L922.9 426.7" stroke-width="0.7"/>
<path d="M916.3 427.6 L923.2 423.7" stroke-width="0.8"/>
<path d="M914.7 426.5 L921.5 422.5" stroke-width="0.8"/>
<path d="M923.2 423.7 L921.5 422.5" stroke-width="0.8"/>
<path d="M921.3 425.6 L919.6 424.5" stroke-width="0.7"/>
<path d="M913 425.3 L919.8 421.4" stroke-width="0.8"/>
<path d="M911.3 424.3 L918.2 420.3" stroke-width="0.8"/>
<path d="M919.8 421.4 L918.2 420.3" stroke-width="0.8"/>
<path d="M918 423.5 L916.4 422.5" stroke-width="0.7"/>
<path d="M909.6 423.2 L916.5 419.3" stroke-width="0.8"/>
<path d="M907.9 422.2 L914.8 418.2" stroke-width="0.8"/>
<path d="M916.5 419.3 L914.8 418.2" stroke-width="0.8"/>
<path d="M914.8 421.5 L913.1 420.6" stroke-width="0.7"/>
<path d="M906.3 421.2 L913.1 417.3" stroke-width="0.8"/>
<path d="M904.6 420.3 L911.4 416.3" stroke-width="0.8"/>
<path d="M913.1 417.3 L911.4 416.3" stroke-width="0.8"/>
<path d="M911.5 419.7 L909.9 418.8" stroke-width="0.7"/>
<path d="M902.9 419.4 L909.7 415.4" stroke-width="0.8"/>
<path d="M901.2 418.5 L908.1 414.6" stroke-width="0.8"/>
<path d="M909.7 415.4 L908.1 414.6" stroke-width="0.8"/>
<path d="M908.2 418 L906.6 417.2" stroke-width="0.7"/>
<path d="M899.5 417.7 L906.4 413.8" stroke-width="0.8"/>
<path d="M897.9 416.9 L904.7 413" stroke-width="0.8"/>
<path d="M906.4 413.8 L904.7 413" stroke-width="0.8"/>
<path d="M905 416.4 L903.4 415.7" stroke-width="0.7"/>
<path d="M896.2 416.2 L903 412.3" stroke-width="0.8"/>
<path d="M894.5 415.5 L901.4 411.6" stroke-width="0.8"/>
<path d="M903 412.3 L901.4 411.6" stroke-width="0.8"/>
<path d="M901.8 415 L900.2 414.4" stroke-width="0.7"/>
<path d="M892.9 414.9 L899.7 410.9" stroke-width="0.8"/>
<path d="M891.2 414.2 L898 410.3" stroke-width="0.8"/>
<path d="M899.7 410.9 L898 410.3" stroke-width="0.8"/>
<path d="M898.6 413.8 L897 413.3" stroke-width="0.7"/>
<path d="M889.5 413.7 L896.4 409.7" stroke-width="0.8"/>
<path d="M887.9 413.1 L894.7 409.2" stroke-width="0.8"/>
<path d="M896.4 409.7 L894.7 409.2" stroke-width="0.8"/>
<path d="M895.4 412.7 L893.8 412.3" stroke-width="0.7"/>
<path d="M886.3 412.6 L893.1 408.7" stroke-width="0.8"/>
<path d="M884.6 412.2 L891.5 408.2" stroke-width="0.8"/>
<path d="M893.1 408.7 L891.5 408.2" stroke-width="0.8"/>
<path d="M892.2 411.8 L890.6 411.4" stroke-width="0.7"/>
<path d="M883 411.8 L889.9 407.8" stroke-width="0.8"/>
<path d="M881.4 411.4 L888.2 407.5" stroke-width="0.8"/>
<path d="M889.9 407.8 L888.2 407.5" stroke-width="0.8"/>
<path d="M889.1 411.1 L887.5 410.8" stroke-width="0.7"/>
<path d="M879.8 411.1 L886.6 407.1" stroke-width="0.8"/>
<path d="M878.2 410.8 L885 406.9" stroke-width="0.8"/>
<path d="M886.6 407.1 L885 406.9" stroke-width="0.8"/>
<path d="M886 410.5 L884.5 410.3" stroke-width="0.7"/>
<path d="M876.6 410.6 L883.5 406.6" stroke-width="0.8"/>
<path d="M875.1 410.4 L881.9 406.4" stroke-width="0.8"/>
<path d="M883.5 406.6 L881.9 406.4" stroke-width="0.8"/>
<path d="M883 410.1 L881.4 409.9" stroke-width="0.7"/>
<path d="M873.5 410.2 L880.3 406.3" stroke-width="0.8"/>
<path d="M872 410.1 L878.8 406.2" stroke-width="0.8"/>
<path d="M880.3 406.3 L878.8 406.2" stroke-width="0.8"/>
<path d="M880 409.8 L878.5 409.7" stroke-width="0.7"/>
<path d="M870.4 410 L877.3 406.1" stroke-width="0.8"/>
<path d="M868.9 410 L875.8 406.1" stroke-width="0.8"/>
<path d="M877.3 406.1 L875.8 406.1" stroke-width="0.8"/>
<path d="M877 409.7 L875.6 409.7" stroke-width="0.7"/>
<path d="M867.4 410 L874.3 406.1" stroke-width="0.8"/>
<path d="M865.9 410.1 L872.8 406.1" stroke-width="0.8"/>
<path d="M874.3 406.1 L872.8 406.1" stroke-width="0.8"/>
<path d="M874.1 409.8 L872.7 409.9" stroke-width="0.7"/>
<path d="M864.5 410.2 L871.3 406.2" stroke-width="0.8"/>
<path d="M863 410.3 L869.8 406.4" stroke-width="0.8"/>
<path d="M871.3 406.2 L869.8 406.4" stroke-width="0.8"/>
<path d="M871.3 410 L869.9 410.2" stroke-width="0.7"/>
<path d="M861.6 410.5 L868.4 406.6" stroke-width="0.8"/>
<path d="M860.2 410.8 L867 406.8" stroke-width="0.8"/>
<path d="M868.4 406.6 L867 406.8" stroke-width="0.8"/>
<path d="M868.5 410.4 L867.2 410.7" stroke-width="0.7"/>
<path d="M858.7 411 L865.6 407.1" stroke-width="0.8"/>
<path d="M857.4 411.3 L864.2 407.4" stroke-width="0.8"/>
<path d="M865.6 407.1 L864.2 407.4" stroke-width="0.8"/>
<path d="M865.8 411 L864.5 411.3" stroke-width="0.7"/>
<path d="M856 411.7 L862.8 407.8" stroke-width="0.8"/>
<path d="M854.7 412.1 L861.5 408.1" stroke-width="0.8"/>
<path d="M862.8 407.8 L861.5 408.1" stroke-width="0.8"/>
<path d="M863.2 411.7 L862 412.2" stroke-width="0.7"/>
<path d="M853.3 412.5 L860.2 408.6" stroke-width="0.8"/>
<path d="M852 413 L858.9 409.1" stroke-width="0.8"/>
<path d="M860.2 408.6 L858.9 409.1" stroke-width="0.8"/>
<path d="M860.7 412.6 L859.5 413.1" stroke-width="0.7"/>
<path d="M850.8 413.5 L857.6 409.6" stroke-width="0.8"/>
<path d="M849.5 414.1 L856.3 410.2" stroke-width="0.8"/>
<path d="M857.6 409.6 L856.3 410.2" stroke-width="0.8"/>
<path d="M858.2 413.7 L857 414.3" stroke-width="0.7"/>
<path d="M848.3 414.7 L855.1 410.8" stroke-width="0.8"/>
<path d="M847 415.4 L853.9 411.4" stroke-width="0.8"/>
<path d="M855.1 410.8 L853.9 411.4" stroke-width="0.8"/>
<path d="M855.9 414.9 L854.7 415.6" stroke-width="0.7"/>
<path d="M845.9 416 L852.7 412.1" stroke-width="0.8"/>
<path d="M844.7 416.8 L851.5 412.8" stroke-width="0.8"/>
<path d="M852.7 412.1 L851.5 412.8" stroke-width="0.8"/>
<path d="M853.6 416.3 L852.5 417" stroke-width="0.7"/>
<path d="M843.5 417.5 L850.4 413.6" stroke-width="0.8"/>
<path d="M842.4 418.4 L849.3 414.4" stroke-width="0.8"/>
<path d="M850.4 413.6 L849.3 414.4" stroke-width="0.8"/>
<path d="M851.4 417.8 L850.3 418.6" stroke-width="0.7"/>
<path d="M841.3 419.2 L848.2 415.3" stroke-width="0.8"/>
<path d="M848.2 415.3 L847.1 416.1" stroke-width="0.8"/>
<path d="M849.3 419.5 L848.3 420.4" stroke-width="0.7"/>
<path d="M962.2 628.5 L969 624.5" stroke-width="0.8"/>
<path d="M963.4 628 L970.3 624" stroke-width="0.8"/>
<path d="M964.7 627.4 L971.5 623.4" stroke-width="0.8"/>
<path d="M970.3 624 L971.5 623.4" stroke-width="0.8"/>
<path d="M969.6 619.9 L970.8 619.3" stroke-width="0.7"/>
<path d="M965.9 626.8 L972.8 622.8" stroke-width="0.8"/>
<path d="M967.2 626.1 L974 622.2" stroke-width="0.8"/>
<path d="M972.8 622.8 L974 622.2" stroke-width="0.8"/>
<path d="M972 618.7 L973.2 618" stroke-width="0.7"/>
<path d="M965.8 622.3 L966.1 622.1 L968.5 625.4 L969.4 624.8 L967.7 621.1 L968 620.9 L968.3 620.7 L970.8 623.9 L971.7 623.2 L969.9 619.6 L970.2 619.4 L970.5 619.1 L973 622.2 L973.8 621.5 L971.9 617.9 L972.2 617.7 L972.5 617.4 L975.1 620.4 L975.9 619.6 L973.9 616.1 L974.2 615.8 L974.5 615.5 L977.1 618.4 L977.9 617.6 L975.8 614.1 L976.1 613.8 L976.3 613.5 L979 616.3 L979.7 615.4 L977.6 612 L977.8 611.6 L978.1 611.3 L980.8 614 L981.4 613.1 L979.2 609.7 L979.5 609.3 L979.7 609 L982.4 611.6 L983.1 610.6 L980.8 607.3 L981 606.9 L981.2 606.5 L984 609.1 L984.6 608 L982.2 604.7 L982.4 604.3 L982.6 603.9 L985.4 606.4 L986 605.3 L983.5 602.1 L983.7 601.6 L983.9 601.2 L986.7 603.5 L987.2 602.4 L984.7 599.3 L984.9 598.8 L985.1 598.4 L987.9 600.6 L988.4 599.4 L985.8 596.3 L986 595.9 L986.1 595.4 L989 597.5 L989.4 596.3 L986.8 593.3 L986.9 592.8 L987.1 592.4 L989.9 594.3 L990.3 593 L987.6 590.2 L987.8 589.7 L987.9 589.2 L990.7 591 L991 589.7 L988.4 586.9 L988.4 586.4 L988.5 585.9 L991.4 587.6 L991.7 586.2 L988.9 583.5 L989 583 L989.1 582.5 L992 584.1 L992.2 582.7 L989.4 580.1 L989.5 579.6 L989.5 579 L992.4 580.5 L992.5 579 L989.7 576.5 L989.8 576 L989.8 575.5 L992.7 576.8 L992.8 575.3 L990 572.9 L990 572.4 L990 571.8 L992.8 573 L992.9 571.4 L990 569.2 L990 568.6 L990 568.1 L992.9 569.1 L992.8 567.5 L990 565.4 L990 564.8 L990 564.3 L992.8 565.2 L992.7 563.6 L989.8 561.6 L989.8 561 L989.7 560.4 L992.5 561.1 L992.4 559.5 L989.5 557.6 L989.5 557 L989.4 556.5 L992.2 557.1 L992 555.4 L989.1 553.7 L989 553.1 L988.9 552.5 L991.7 552.9 L991.4 551.3 L988.5 549.6 L988.4 549 L988.4 548.4 L991 548.7 L990.7 547.1 L987.9 545.6 L987.8 545 L987.6 544.3 L990.3 544.5 L989.9 542.8 L987.1 541.5 L986.9 540.8 L986.8 540.2 L989.4 540.2 L989 538.5 L986.1 537.3 L986 536.7 L985.8 536.1 L988.4 536 L987.9 534.2 L985.1 533.2 L984.9 532.5 L984.7 531.9 L987.2 531.6 L986.7 529.9 L983.9 529 L983.7 528.3 L983.5 527.7 L986 527.3 L985.4 525.6 L982.6 524.8 L982.4 524.1 L982.2 523.5 L984.6 523 L984 521.2 L981.2 520.6 L981 519.9 L980.8 519.3 L983.1 518.6 L982.4 516.9 L979.7 516.4 L979.5 515.7 L979.2 515.1 L981.4 514.3 L980.8 512.5 L978.1 512.2 L977.8 511.5 L977.6 510.9 L979.7 509.9 L979 508.2 L976.3 508 L976.1 507.4 L975.8 506.7 L977.9 505.6 L977.1 503.9 L974.5 503.8 L974.2 503.2 L973.9 502.6 L975.9 501.3 L975.1 499.6 L972.5 499.7 L972.2 499.1 L971.9 498.4 L973.8 497 L973 495.4 L970.5 495.6 L970.2 495 L969.9 494.4 L971.7 492.8 L970.8 491.1 L968.3 491.5 L968 490.9 L967.7 490.3 L969.4 488.6 L968.5 487 L966.1 487.5 L965.8 486.9 L965.4 486.3 L967 484.5 L966.1 482.9 L963.8 483.5 L963.4 482.9 L963 482.3 L964.6 480.4 L963.6 478.8 L961.3 479.6 L961 479 L960.6 478.4 L962 476.4 L961 474.8 L958.8 475.8 L958.4 475.2 L958.1 474.6 L959.4 472.5 L958.3 470.9 L956.2 472 L955.9 471.4 L955.5 470.9 L956.7 468.6 L955.6 467 L953.6 468.3 L953.2 467.7 L952.8 467.2 L953.9 464.8 L952.8 463.3 L950.9 464.6 L950.4 464.1 L950 463.6 L951.1 461.1 L949.9 459.6 L948.1 461.1 L947.6 460.6 L947.2 460.1 L948.1 457.5 L946.9 456 L945.2 457.7 L944.8 457.2 L944.3 456.6 L945.1 453.9 L943.9 452.6 L942.3 454.3 L941.8 453.8 L941.4 453.3 L942.1 450.5 L940.9 449.2 L939.3 451.1 L938.8 450.6 L938.4 450.1 L939 447.2 L937.7 445.9 L936.3 447.9 L935.8 447.5 L935.3 447 L935.8 444 L934.6 442.8 L933.2 444.9 L932.7 444.5 L932.3 444 L932.6 440.9 L931.4 439.8 L930.1 442 L929.6 441.6 L929.1 441.1 L929.4 438 L928.1 436.9 L926.9 439.2 L926.5 438.8 L926 438.4 L926.1 435.2 L924.8 434.1 L923.8 436.5 L923.3 436.2 L922.8 435.8 L922.8 432.5 L921.5 431.4 L920.6 434 L920.1 433.6 L919.6 433.3 L919.5 429.9 L918.2 428.9 L917.3 431.6 L916.8 431.3 L916.4 430.9 L916.2 427.5 L914.8 426.6 L914.1 429.4 L913.6 429 L913.1 428.7 L912.8 425.2 L911.5 424.4 L910.8 427.2 L910.4 426.9 L909.9 426.6 L909.5 423.1 L908.1 422.3 L907.6 425.3 L907.1 425 L906.6 424.7 L906.1 421.1 L904.7 420.4 L904.3 423.4 L903.8 423.2 L903.4 422.9 L902.7 419.3 L901.4 418.6 L901.1 421.8 L900.6 421.5 L900.1 421.3 L899.4 417.6 L898 417 L897.8 420.2 L897.4 420 L896.9 419.8 L896 416.1 L894.7 415.6 L894.6 418.9 L894.1 418.7 L893.6 418.5 L892.7 414.8 L891.4 414.3 L891.4 417.6 L890.9 417.5 L890.4 417.3 L889.4 413.6 L888.1 413.2 L888.2 416.6 L887.7 416.4 L887.3 416.3 L886.1 412.6 L884.8 412.2 L885.1 415.7 L884.6 415.6 L884.1 415.5 L882.8 411.7 L881.6 411.5 L881.9 415 L881.5 414.9 L881 414.8 L879.6 411.1 L878.4 410.8 L878.9 414.4 L878.4 414.3 L877.9 414.3 L876.5 410.6 L875.2 410.4 L875.8 414 L875.4 413.9 L874.9 413.9 L873.3 410.2 L872.1 410.1 L872.8 413.7 L872.4 413.7 L871.9 413.7 L870.3 410 L869.1 410 L869.9 413.7 L869.4 413.7 L869 413.7 L867.3 410 L866.1 410.1 L867 413.8 L866.6 413.8 L866.1 413.8 L864.3 410.2 L863.1 410.3 L864.2 414 L863.8 414.1 L863.3 414.1 L861.4 410.5 L860.3 410.7 L861.4 414.4 L861 414.5 L860.6 414.6 L858.6 411.1 L857.5 411.3 L858.7 415 L858.3 415.1 L858 415.2 L855.9 411.7 L854.8 412.1 L856.1 415.8 L855.8 415.9 L855.4 416 L853.2 412.6 L852.2 413 L853.6 416.7 L853.2 416.8 L852.9 417 L850.6 413.6 L849.6 414.1 L851.2 417.7 L850.8 417.9 L850.4 418.1 L848.1 414.8 L847.2 415.3 L848.8 419 L848.5 419.2 L848.1 419.4 L845.7 416.1 L844.8 416.7 L846.5 420.4 L846.2 420.6 L845.9 420.8 L843.4 417.6 L842.5 418.3 L844.3 421.9 L844 422.1 L843.7 422.4 L841.2 419.3 L840.4 420 L842.3 423.6 L842 423.8 L841.7 424.1 L839.1 421.1 L838.3 421.9 L840.3 425.4 L840 425.7 L839.7 426 L837.1 423.1 L836.3 423.9 L838.4 427.4 L838.1 427.7 L837.9 428 L835.2 425.2 L834.5 426.1 L836.6 429.5 L836.4 429.9 L836.1 430.2 L833.4 427.5 L832.8 428.4 L835 431.8 L834.7 432.2 L834.5 432.5 L831.8 429.9 L831.1 430.9 L833.4 434.2 L833.2 434.6 L833 435 L830.2 432.4 L829.6 433.5 L832 436.8 L831.8 437.2 L831.6 437.6 L828.8 435.1 L828.2 436.2 L830.7 439.4 L830.5 439.9 L830.3 440.3 L827.5 438 L827 439.1 L829.5 442.2 L829.3 442.7 L829.1 443.1 L826.3 440.9 L825.8 442.1 L828.4 445.2 L828.2 445.6 L828.1 446.1 L825.2 444 L824.8 445.2 L827.4 448.2 L827.3 448.7 L827.1 449.1 L824.3 447.2 L823.9 448.5 L826.6 451.3 L826.4 451.8 L826.3 452.3 L823.5 450.5 L823.2 451.8 L825.8 454.6 L825.8 455.1 L825.7 455.6 L822.8 453.9 L822.5 455.3 L825.3 458 L825.2 458.5 L825.1 459 L822.2 457.4 L822 458.8 L824.8 461.4 L824.7 461.9 L824.7 462.5 L821.8 461 L821.7 462.5 L824.5 465 L824.4 465.5 L824.4 466 L821.5 464.7 L821.4 466.2 L824.2 468.6 L824.2 469.1 L824.2 469.7 L821.4 468.5 L821.3 470.1 L824.2 472.3 L824.2 472.9 L824.2 473.4 L821.3 472.4 L821.4 474 L824.2 476.1 L824.2 476.7 L824.2 477.2 L821.4 476.3 L821.5 477.9 L824.4 479.9 L824.4 480.5 L824.5 481.1 L821.7 480.4 L821.8 482 L824.7 483.9 L824.7 484.5 L824.8 485 L822 484.4 L822.2 486.1 L825.1 487.8 L825.2 488.4 L825.3 489 L822.5 488.6 L822.8 490.2 L825.7 491.9 L825.8 492.5 L825.8 493.1 L823.2 492.8 L823.5 494.4 L826.3 495.9 L826.4 496.5 L826.6 497.2 L823.9 497 L824.3 498.7 L827.1 500 L827.3 500.7 L827.4 501.3 L824.8 501.3 L825.2 503 L828.1 504.2 L828.2 504.8 L828.4 505.4 L825.8 505.5 L826.3 507.3 L829.1 508.3 L829.3 509 L829.5 509.6 L827 509.9 L827.5 511.6 L830.3 512.5 L830.5 513.2 L830.7 513.8 L828.2 514.2 L828.8 515.9 L831.6 516.7 L831.8 517.4 L832 518 L829.6 518.5 L830.2 520.3 L833 520.9 L833.2 521.6 L833.4 522.2 L831.1 522.9 L831.8 524.6 L834.5 525.1 L834.7 525.8 L835 526.4 L832.8 527.2 L833.4 529 L836.1 529.3 L836.4 530 L836.6 530.6 L834.5 531.6 L835.2 533.3 L837.9 533.5 L838.1 534.1 L838.4 534.8 L836.3 535.9 L837.1 537.6 L839.7 537.7 L840 538.3 L840.3 538.9 L838.3 540.2 L839.1 541.9 L841.7 541.8 L842 542.4 L842.3 543.1 L840.4 544.5 L841.2 546.1 L843.7 545.9 L844 546.5 L844.3 547.1 L842.5 548.7 L843.4 550.4 L845.9 550 L846.2 550.6 L846.5 551.2 L844.8 552.9 L845.7 554.5 L848.1 554 L848.5 554.6 L848.8 555.2 L847.2 557 L848.1 558.6 L850.4 558 L850.8 558.6 L851.2 559.2 L849.6 561.1 L850.6 562.7 L852.9 561.9 L853.2 562.5 L853.6 563.1 L852.2 565.1 L853.2 566.7 L855.4 565.7 L855.8 566.3 L856.1 566.9 L854.8 569 L855.9 570.6 L858 569.5 L858.3 570.1 L858.7 570.6 L857.5 572.9 L858.6 574.5 L860.6 573.2 L861 573.8 L861.4 574.3 L860.3 576.7 L861.4 578.2 L863.3 576.9 L863.8 577.4 L864.2 577.9 L863.1 580.4 L864.3 581.9 L866.1 580.4 L866.6 580.9 L867 581.4 L866.1 584 L867.3 585.5 L869 583.8 L869.4 584.3 L869.9 584.9 L869.1 587.6 L870.3 588.9 L871.9 587.2 L872.4 587.7 L872.8 588.2 L872.1 591 L873.3 592.3 L874.9 590.4 L875.4 590.9 L875.8 591.4 L875.2 594.3 L876.5 595.6 L877.9 593.6 L878.4 594 L878.9 594.5 L878.4 597.5 L879.6 598.7 L881 596.6 L881.5 597 L881.9 597.5 L881.6 600.6 L882.8 601.7 L884.1 599.5 L884.6 599.9 L885.1 600.4 L884.8 603.5 L886.1 604.6 L887.3 602.3 L887.7 602.7 L888.2 603.1 L888.1 606.3 L889.4 607.4 L890.4 605 L890.9 605.3 L891.4 605.7 L891.4 609 L892.7 610.1 L893.6 607.5 L894.1 607.9 L894.6 608.2 L894.7 611.6 L896 612.6 L896.9 609.9 L897.4 610.2 L897.8 610.6 L898 614 L899.4 614.9 L900.1 612.1 L900.6 612.5 L901.1 612.8 L901.4 616.3 L902.7 617.1 L903.4 614.3 L903.8 614.6 L904.3 614.9 L904.7 618.4 L906.1 619.2 L906.6 616.2 L907.1 616.5 L907.6 616.8 L908.1 620.4 L909.5 621.1 L909.9 618.1 L910.4 618.3 L910.8 618.6 L911.5 622.2 L912.8 622.9 L913.1 619.7 L913.6 620 L914.1 620.2 L914.8 623.9 L916.2 624.5 L916.4 621.3 L916.8 621.5 L917.3 621.7 L918.2 625.4 L919.5 625.9 L919.6 622.6 L920.1 622.8 L920.6 623 L921.5 626.7 L922.8 627.2 L922.8 623.9 L923.3 624 L923.8 624.2 L924.8 627.9 L926.1 628.3 L926 624.9 L926.5 625.1 L926.9 625.2 L928.1 628.9 L929.4 629.3 L929.1 625.8 L929.6 625.9 L930.1 626 L931.4 629.8 L932.6 630 L932.3 626.5 L932.7 626.6 L933.2 626.7 L934.6 630.4 L935.8 630.7 L935.3 627.1 L935.8 627.2 L936.3 627.2 L937.7 630.9 L939 631.1 L938.4 627.5 L938.8 627.6 L939.3 627.6 L940.9 631.3 L942.1 631.4 L941.4 627.8 L941.8 627.8 L942.3 627.8 L943.9 631.5 L945.1 631.5 L944.3 627.8 L944.8 627.8 L945.2 627.8 L946.9 631.5 L948.1 631.4 L947.2 627.7 L947.6 627.7 L948.1 627.7 L949.9 631.3 L951.1 631.2 L950 627.5 L950.4 627.4 L950.9 627.4 L952.8 631 L953.9 630.8 L952.8 627.1 L953.2 627 L953.6 626.9 L955.6 630.4 L956.7 630.2 L955.5 626.5 L955.9 626.4 L956.2 626.3 L958.3 629.8 L959.4 629.4 L958.1 625.7 L958.4 625.6 L958.8 625.5 L961 628.9 L962 628.5 L960.6 624.8 L961 624.7 L961.3 624.5 L963.6 627.9 L964.6 627.4 L963 623.8 L963.4 623.6 L963.8 623.4 L966.1 626.7 L967 626.2 L965.4 622.5Z M960.7 613.6 L963.4 611.8 L966 609.8 L968.4 607.6 L970.7 605.1 L972.7 602.4 L974.6 599.5 L976.3 596.3 L977.9 593 L979.2 589.4 L980.3 585.7 L981.2 581.8 L982 577.7 L982.5 573.4 L982.8 569 L982.9 564.5 L982.8 559.9 L982.5 555.1 L982 550.3 L981.2 545.4 L980.3 540.4 L979.2 535.3 L977.9 530.2 L976.3 525.1 L974.6 520 L972.7 514.9 L970.7 509.8 L968.4 504.7 L966 499.7 L963.4 494.7 L960.7 489.8 L957.8 485 L954.8 480.3 L951.7 475.7 L948.4 471.2 L945 466.8 L941.5 462.6 L937.9 458.6 L934.3 454.7 L930.5 451 L926.7 447.5 L922.9 444.2 L919 441.1 L915 438.3 L911.1 435.6 L907.1 433.2 L903.1 431.1 L899.2 429.1 L895.2 427.5 L891.3 426 L887.5 424.9 L883.7 424 L879.9 423.4 L876.3 423 L872.7 422.9 L869.2 423.1 L865.8 423.5 L862.5 424.2 L859.4 425.2 L856.4 426.4 L853.5 427.9 L850.8 429.7 L848.2 431.7 L845.8 433.9 L843.5 436.4 L841.5 439.1 L839.6 442 L837.9 445.2 L836.3 448.5 L835 452.1 L833.9 455.8 L833 459.7 L832.2 463.8 L831.7 468.1 L831.4 472.5 L831.3 477 L831.4 481.6 L831.7 486.4 L832.2 491.2 L833 496.1 L833.9 501.1 L835 506.2 L836.3 511.3 L837.9 516.4 L839.6 521.5 L841.5 526.6 L843.5 531.7 L845.8 536.8 L848.2 541.8 L850.8 546.8 L853.5 551.7 L856.4 556.5 L859.4 561.2 L862.5 565.8 L865.8 570.3 L869.2 574.7 L872.7 578.9 L876.3 582.9 L879.9 586.8 L883.7 590.5 L887.5 594 L891.3 597.3 L895.2 600.4 L899.2 603.2 L903.1 605.9 L907.1 608.3 L911.1 610.4 L915 612.4 L919 614 L922.9 615.5 L926.7 616.6 L930.5 617.5 L934.3 618.1 L937.9 618.5 L941.5 618.6 L945 618.4 L948.4 618 L951.7 617.3 L954.8 616.3 L957.8 615.1 L960.7 613.6Z" style="fill:#fff;fill-rule:evenodd" stroke-width="0.9"/>
<ellipse cx="907.1" cy="520.8" rx="107.2" ry="61.9" transform="rotate(60 907.1 520.8)"/>
<path d="M894.3 420.9 A107.2 61.9 60 1 0 946 614.6"/>
<path d="M878 419.6 A108.7 62.8 60 0 0 936.8 617.4"/>
<path d="M968 624.7 L978 638.3"/>
<text x="971" y="654.5" font-size="19.5">23</text>
<path d="M805.2 546.9 L812.6 542.6 L813.4 542.2 L814.4 541.9 L815.4 541.7 L816.4 541.6 L817.5 541.7 L818.6 541.9 L819.8 542.1 L821 542.6 L822.2 543.1 L823.4 543.7 L824.6 544.5 L825.8 545.3 L826.9 546.3 L828.1 547.3 L829.2 548.4 L830.3 549.6 L831.3 550.9 L832.3 552.3 L833.3 553.7 L834.2 555.1 L835 556.6 L835.7 558.1 L836.4 559.7 L837 561.2 L837.5 562.7 L837.9 564.3 L838.2 565.8 L838.4 567.3 L838.6 568.8 L838.6 570.2 L838.6 571.5 L838.4 572.8 L838.2 574 L837.9 575.2 L837.5 576.2 L837 577.2 L836.4 578.1 L835.7 578.9 L835 579.5 L834.2 580.1 L826.8 584.3" style="fill:#fff"/>
<ellipse cx="816" cy="565.6" rx="21.6" ry="12.5" transform="rotate(60 816 565.6)" style="fill:#fff"/>
<ellipse cx="816" cy="565.6" rx="19.6" ry="11.3" transform="rotate(60 816 565.6)"/>
<ellipse cx="816" cy="565.6" rx="17.6" ry="10.2" transform="rotate(60 816 565.6)"/>
<ellipse cx="816" cy="565.6" rx="14" ry="8.1" transform="rotate(60 816 565.6)" stroke-width="1.5"/>
<ellipse cx="816" cy="565.6" rx="10.5" ry="6.1" transform="rotate(60 816 565.6)"/>
<path d="M815 554.8 A10.5 6.1 60 0 0 820.1 573.7"/>
<ellipse cx="825.2" cy="578.3" rx="2" ry="1.2" transform="rotate(60 825.2 578.3)"/>
<ellipse cx="826.7" cy="568.1" rx="2" ry="1.2" transform="rotate(60 826.7 568.1)"/>
<ellipse cx="820.2" cy="556.1" rx="2" ry="1.2" transform="rotate(60 820.2 556.1)"/>
<ellipse cx="810.5" cy="551.2" rx="2" ry="1.2" transform="rotate(60 810.5 551.2)"/>
<ellipse cx="805" cy="557.2" rx="2" ry="1.2" transform="rotate(60 805 557.2)"/>
<ellipse cx="807.7" cy="569.5" rx="2" ry="1.2" transform="rotate(60 807.7 569.5)"/>
<ellipse cx="816.7" cy="578.9" rx="2" ry="1.2" transform="rotate(60 816.7 578.9)"/>
<path d="M832.7 580.7 L840.7 595.4"/>
<text x="831.5" y="612.5" font-size="19.5">24</text>
<path d="M1058.1 76.7 L1077.7 65.6 L1169.6 167.4 L676.3 452.2 L791.5 579.6 L818.7 563.9"/>
<path d="M835.6 554.2 L1038.1 436.9"/>
<path d="M748.7 220 C750 219.3 753.1 216.2 756.7 215.8 C760.2 215.5 765.6 215.8 770 217.8 C774.4 219.9 779.7 224.1 783.3 228.3 C786.9 232.6 789.6 238.3 791.7 243.3 C793.8 248.3 795.6 254 795.8 258.3 C796 262.6 794.6 266.8 792.8 269.2 C791.1 271.5 786.6 271.9 785.3 272.5"/>
<ellipse cx="757.5" cy="251.3" rx="29.5" ry="17" transform="rotate(60 757.5 251.3)" style="fill:#fff"/>
<ellipse cx="784.5" cy="258.3" rx="1.3" ry="2" transform="rotate(20 784.5 258.3)"/>
<path d="M715.3 258.3 L749.9 238.3 L750.8 237.9 L751.7 237.7 L752.6 237.6 L753.6 237.7 L754.7 237.9 L755.8 238.2 L756.9 238.7 L758 239.4 L759.1 240.2 L760.2 241.1 L761.2 242.1 L762.3 243.2 L763.2 244.4 L764.1 245.6 L764.9 247 L765.7 248.4 L766.3 249.8 L766.9 251.2 L767.3 252.6 L767.7 254 L767.9 255.4 L768 256.8 L768 258.1 L767.9 259.3 L767.7 260.4 L767.3 261.4 L766.9 262.3 L766.3 263.1 L765.7 263.8 L764.9 264.3 L730.3 284.3" style="fill:#fff"/>
<ellipse cx="722.8" cy="271.3" rx="15" ry="8.7" transform="rotate(60 722.8 271.3)" style="fill:#fff"/>
<ellipse cx="723.3" cy="271.1" rx="13.6" ry="7.9" transform="rotate(60 723.3 271.1)"/>
<ellipse cx="722.2" cy="271.8" rx="4.6" ry="2.7" transform="rotate(60 722.2 271.8)"/>
<path d="M722.2 271.8 L719.8 269.5"/>
<path d="M722.2 271.8 L725.2 270.6"/>
<path d="M722.2 271.8 L722 275.2"/>
<path d="M725 256.7 C729.7 253.9 748.1 242.9 753 240.3 C757.9 237.8 754.4 240.9 754.7 241.3 C754.9 241.8 759 240.1 754.3 243 C749.7 245.9 731.3 256.2 726.7 258.8"/>
<path d="M726.7 254.7 L750.8 240.8"/>
<path d="M745.8 225.3 C745.6 223.1 744.5 215.8 744.3 211.7 C744.2 207.6 744.1 203.6 745 200.8 C745.9 198.1 748.9 196 749.7 195"/>
<path d="M749.7 195 L778.3 179.7"/>
<path d="M749.7 195 L798.3 221.7"/>
<path d="M798.3 221.7 C798.8 223.6 800.2 229.7 800.8 233.3 C801.4 236.9 801.8 237.5 802 243.3 C802.2 249.2 802 264.2 802 268.3"/>
<path d="M778.3 179.7 C779.2 179.4 781.7 177.6 783.3 178 C785 178.4 786.7 179.4 788.3 182 C789.9 184.6 791.7 188.9 793 193.3 C794.3 197.7 795.4 203.6 796.3 208.3 C797.2 213.1 798 219.4 798.3 221.7"/>
<path d="M753.7 272 C754.3 273.8 755.1 279.4 757.5 282.5 C759.9 285.6 764 288.4 768.3 290.3 C772.6 292.3 778.3 293.7 783.3 294.2 C788.3 294.6 794 293.8 798.3 293 C802.6 292.2 807.4 289.8 809.2 289.2"/>
<path d="M802 243.7 L813.3 248.7 L813.3 263.3"/>
<path d="M802 268.3 L813.3 263.3 L820 274.2 L820 283.3 L809.2 289.2 L809.2 280 L802 268.3"/>
<path d="M809.2 280 L820 274.2"/>
<path d="M770 180 C770.8 179.5 773.4 177.2 775 176.9 C776.6 176.6 778.6 177.9 779.4 178.1"/>
<path d="M779.4 178.1 C780.3 176.6 782.2 171.4 785 168.8 C787.8 166.1 794.4 163.5 796.2 162.5"/>
<path d="M796.2 162.5 C798.1 163.3 803.9 165.5 807.5 167.5 C811.1 169.5 816.4 173.2 818.1 174.4"/>
<path d="M785 175 C785.8 174.4 788 172.1 790 171.2 C792 170.4 794.4 169.6 796.9 170 C799.4 170.4 802.4 171.9 805 173.8 C807.6 175.6 810.3 178.3 812.5 181.2 C814.7 184.2 816.8 188.1 818.1 191.2 C819.5 194.4 820.3 197.3 820.6 200 C820.9 202.7 820.7 205.2 820 207.5 C819.3 209.8 817.5 212.1 816.2 213.8 C815 215.4 813.1 216.9 812.5 217.5"/>
<path d="M786.2 176.9 C788 176 794 172.2 796.9 171.9 C799.8 171.6 801.4 173 803.8 175 C806.1 177 809.2 180.6 811.2 183.8 C813.3 186.9 815.1 190.6 816.2 193.8 C817.4 196.9 818 200 818.1 202.5 C818.2 205 817.7 207 816.9 208.8 C816 210.5 814.5 212.1 813.1 213.1 C811.8 214.2 809.5 214.7 808.8 215"/>
<path d="M808.8 215 L812.5 217.5"/>
<ellipse cx="810.9" cy="206.9" rx="1.4" ry="2" transform="rotate(25 810.9 206.9)"/>
<path d="M790 185 C791.5 187.1 796 192.5 798.8 197.5 C801.5 202.5 804.2 209.4 806.2 215 C808.3 220.6 810.2 226.7 811.2 231.2 C812.3 235.8 812.6 239.6 812.5 242.5 C812.4 245.4 810.9 247.7 810.6 248.8"/>
<path d="M812.5 228.1 L832.5 237.5 L840.6 248.8"/>
<path d="M818.1 174.4 C818.6 175.5 819.7 177.4 821.2 181.2 C822.8 185.1 825.8 192.3 827.5 197.5 C829.2 202.7 830.4 207.9 831.2 212.5 C832.1 217.1 832.4 220.8 832.5 225 C832.6 229.2 832.2 235.4 832.1 237.5"/>
<path d="M820 173.1 C820.8 174.3 822.9 176.8 825 180 C827.1 183.2 830.3 188.1 832.5 192.5 C834.7 196.9 836.6 201.7 838.1 206.2 C839.7 210.8 840.9 215.8 841.9 220 C842.8 224.2 843.5 228.3 843.8 231.2 C844 234.2 843.5 235.6 843.1 237.5 C842.7 239.4 841.6 241.7 841.2 242.5"/>
<path d="M818.1 174.4 C818.4 174 818.6 172.6 820 171.9 C821.4 171.1 824.2 170.1 826.2 170 C828.3 169.9 830.5 170.5 832.5 171.2 C834.5 172 837.2 173.9 838.1 174.4"/>
<path d="M820 173.8 C821.5 174 825.8 173.8 828.8 175 C831.7 176.2 834.8 178.5 837.5 181.2 C840.2 184 842.7 187.5 845 191.2 C847.3 195 849.6 199.4 851.2 203.8 C852.9 208.1 854.2 213.5 855 217.5 C855.8 221.5 856.2 224.6 856.2 227.5 C856.2 230.4 855.8 233.1 855 235 C854.2 236.9 851.9 238.1 851.2 238.8"/>
<path d="M823.8 176.2 C825.2 176.8 829.6 177.5 832.5 179.4 C835.4 181.2 838.5 184.1 841.2 187.5 C844 190.9 846.8 195.8 848.8 200 C850.7 204.2 852.3 208.5 853.1 212.5 C854 216.5 854.1 220.6 853.8 223.8 C853.4 226.9 852.5 229.4 851.2 231.2 C850 233.1 847.7 234.2 846.2 235 C844.8 235.8 843.1 236 842.5 236.2"/>
<path d="M838.1 174.4 C839.7 175.3 844.7 177.8 847.5 180 C850.3 182.2 852.9 185.2 855 187.5 C857.1 189.8 859.2 192.7 860 193.8"/>
<path d="M857.5 193.1 C858.8 193.3 862.3 192.8 865 194.4 C867.7 195.9 871 199.1 873.8 202.5 C876.5 205.9 879.3 210.8 881.2 215 C883.2 219.2 885 223.8 885.6 227.5 C886.2 231.2 885.9 234.6 885 237.5 C884.1 240.4 881.5 243.5 880 245 C878.5 246.5 876.9 246 876.2 246.2"/>
<path d="M857.5 200 C859 200.2 863.5 199.8 866.2 201.2 C869 202.7 871.6 205.6 873.8 208.8 C875.9 211.9 878 216.2 879.4 220 C880.7 223.8 881.8 227.9 881.9 231.2 C882 234.6 880.9 238 880 240 C879.1 242 876.9 242.6 876.2 243.1"/>
<path d="M857.5 201.9 L863.1 199.4"/>
<path d="M860 193.8 C860.8 195.2 863.3 199 865 202.5 C866.7 206 868.6 210.8 870 215 C871.4 219.2 872.5 223.8 873.1 227.5 C873.8 231.2 874 234.6 873.8 237.5 C873.5 240.4 872.2 243.8 871.9 245"/>
<path d="M871.9 245 L876.2 246.2"/>
<path d="M893.1 206.2 C893.3 207.7 894.4 211.7 894.4 215 C894.4 218.3 893.3 224.4 893.1 226.2"/>
<path d="M887.5 230 L893.1 226.2"/>
<path d="M841.2 242.5 L857.5 250"/>
<path d="M838.3 250 L855.8 259.2"/>
<path d="M855.8 259.2 L863.8 252.5"/>
<path d="M863.8 252.5 C865.2 251.3 870.6 246.7 872.5 245.5 C874.4 244.3 874.6 245.5 875 245.5"/>
<path d="M839.2 173.3 L838.3 151.7 L830.8 143.3 L830 135.8 L835 130.8 L843.3 126.7 L858.3 121.7"/>
<path d="M843.3 126.7 C846.1 127.1 854.4 126.7 860 129.2 C865.6 131.7 871.7 137.1 876.7 141.7 C881.7 146.2 886.2 151.7 890 156.7 C893.8 161.7 897.1 168.1 899.2 171.7 C901.2 175.3 901.9 177.2 902.5 178.3"/>
<path d="M858.3 121.7 C858.3 120.8 856.4 118.6 858.3 116.7 C860.3 114.7 865.8 111.9 870 110 C874.2 108.1 878.9 105.4 883.3 105 C887.8 104.6 894.4 107.1 896.7 107.5"/>
<path d="M870 110 C873.3 111.4 883.9 114.4 890 118.3 C896.1 122.2 901.7 128.1 906.7 133.3 C911.7 138.6 916.2 145.6 920 150 C923.8 154.4 927.6 158.3 929.2 160"/>
<path d="M896.7 107.5 C898.9 108.5 905.6 110.4 910 113.3 C914.4 116.2 919.4 120.6 923.3 125 C927.2 129.4 930.4 135 933.3 140 C936.2 145 939.4 151.4 940.8 155 C942.2 158.6 941.5 160.6 941.7 161.7"/>
<path d="M929.2 160 L940.8 155"/>
<path d="M929.2 160 L930 165.8 L941.7 161.7"/>
<path d="M902.5 178.3 C902.8 179.7 904 183.1 904.2 186.7 C904.3 190.3 903.1 195.3 903.3 200 C903.6 204.7 905.4 212.5 905.8 215"/>
<path d="M902.5 178.3 L912 172"/>
<path d="M892.8 186.7 L895.8 184.2 L902.5 183.3"/>
<path d="M892.8 186.7 L893.3 205.3 L904.2 200"/>
<path d="M893.3 205.3 C893.6 207.2 895.6 212.8 895 216.7 C894.4 220.5 891.4 225.6 890 228.3 C888.6 231.1 887.2 232.5 886.7 233.3"/>
<path d="M921.3 169.2 L922 190 L933.3 184.2 L932.5 165.8"/>
<path d="M921.3 169.2 L930 165.8"/>
<path d="M922 190 L923.3 208.3 L910 216.7 L905.8 215"/>
<path d="M910 216.7 L917.5 221.3 L925 216.7 L926.7 208.3"/>
<path d="M893.3 143.3 C895 144.4 900.3 146.9 903.3 150 C906.4 153.1 909.6 157.5 911.7 161.7 C913.8 165.8 915 170.3 915.8 175 C916.7 179.7 917.1 186.1 916.7 190 C916.2 193.9 914.7 196.4 913.3 198.3 C911.9 200.3 909.2 201.1 908.3 201.7"/>
<path d="M896.7 150 C898.2 151.4 903.3 154.7 905.8 158.3 C908.3 161.9 910.4 166.9 911.7 171.7 C912.9 176.4 913.6 182.5 913.3 186.7 C913.1 190.8 910.6 195 910 196.7"/>
<ellipse cx="905" cy="185.8" rx="1.2" ry="1.8" transform="rotate(20 905 185.8)"/>
<path d="M932.5 165.8 C934 167.4 939.4 171 941.7 175 C943.9 179 945.3 185.3 945.8 190 C946.4 194.7 946.2 200.1 945 203.3 C943.8 206.5 940.3 208.6 938.3 209.2 C936.4 209.7 934.2 207.1 933.3 206.7"/>
<path d="M933.3 170 C934.4 171.7 938.3 176.1 940 180 C941.7 183.9 943.1 189.4 943.3 193.3 C943.6 197.2 941.9 201.7 941.7 203.3"/>
<path d="M915 115.8 C916.7 115.4 922.2 114.3 925 113.3 C927.8 112.4 930.6 110.6 931.7 110"/>
<path d="M916.7 116.7 C918.3 118.3 923.1 121.7 926.7 126.7 C930.3 131.7 934.7 140 938.3 146.7 C941.9 153.3 946 162.8 948.3 166.7 C950.7 170.6 951.8 169.4 952.5 170"/>
<path d="M926.7 113 C928.9 113.9 935.8 114.9 940 118.3 C944.2 121.7 948.3 128.1 951.7 133.3 C955 138.6 957.9 144.4 960 150 C962.1 155.6 963.3 161.7 964.2 166.7 C965 171.7 965.7 175.6 965 180 C964.3 184.4 962.2 189.4 960 193.3 C957.8 197.2 953.9 201.1 951.7 203.3 C949.4 205.6 947.5 206.1 946.7 206.7"/>
<path d="M952.5 144.2 L957.5 142.5"/>
<path d="M976.7 105 C977.5 106.9 980.4 111.9 981.7 116.7 C982.9 121.4 983.9 128.3 984.2 133.3 C984.4 138.3 984 142.2 983.3 146.7 C982.6 151.1 980.6 157.8 980 160"/>
<path d="M980 160 C981.1 160.8 983.9 163.6 986.7 165 C989.4 166.4 993.3 167.9 996.7 168.3 C1000 168.7 1005 167.6 1006.7 167.5"/>
<path d="M1011.7 56.7 C1013.6 55.9 1019.4 52.4 1023.3 52 C1027.2 51.6 1031.1 52.3 1035 54.2 C1038.9 56.1 1043.1 59.3 1046.7 63.3 C1050.3 67.4 1054 73.1 1056.7 78.3 C1059.3 83.6 1061.4 90.3 1062.5 95 C1063.6 99.7 1063.8 103.3 1063.3 106.7 C1062.9 110 1060.6 113.6 1060 115"/>
<path d="M993.3 61.7 L1011.7 56.7"/>
<path d="M1047.5 122.5 L1060 115"/>
<path d="M993.3 61.7 C995.6 61.3 1002.2 59.1 1006.7 59.7 C1011.1 60.2 1015.8 62.2 1020 65 C1024.2 67.8 1028.1 71.7 1031.7 76.7 C1035.3 81.7 1039.2 89.4 1041.7 95 C1044.2 100.6 1045.7 105.4 1046.7 110 C1047.6 114.6 1047.4 120.4 1047.5 122.5"/>
<path d="M997.5 60.3 C999.6 60.3 1005.7 58.8 1010 60 C1014.3 61.2 1019.2 63.9 1023.3 67.5 C1027.5 71.1 1031.5 76.2 1035 81.7 C1038.5 87.1 1042 94.7 1044.2 100 C1046.3 105.3 1047.3 110 1048 113.3 C1048.7 116.7 1048.3 118.9 1048.3 120"/>
<path d="M1001.7 69.2 C1003.6 69.3 1009.7 68.5 1013.3 70 C1016.9 71.5 1020.3 74.4 1023.3 78.3 C1026.4 82.2 1029.7 88.6 1031.7 93.3 C1033.6 98.1 1034.5 102.5 1035 106.7 C1035.5 110.8 1035.2 115 1034.7 118.3 C1034.1 121.7 1033.3 124.6 1031.7 126.7 C1030.1 128.8 1026.1 130.1 1025 130.8"/>
<path d="M1004.2 73.3 C1006 73.8 1011.8 73.6 1015 75.8 C1018.2 78.1 1021.1 82.6 1023.3 86.7 C1025.6 90.7 1027.4 95.6 1028.3 100 C1029.3 104.4 1029.6 109.4 1029.2 113.3 C1028.8 117.2 1026.4 121.7 1025.8 123.3"/>
<path d="M993.3 61.7 C994.2 62.5 996.9 65.4 998.3 66.7 C999.7 67.9 1001.1 68.8 1001.7 69.2"/>
<path d="M1025 130.8 C1026.4 131.8 1030.6 136.3 1033.3 136.7 C1036.1 137.1 1039.3 135.7 1041.7 133.3 C1044 131 1046.5 124.3 1047.5 122.5"/>
<path d="M928.3 113.3 C927.9 112.2 926.1 109.4 925.8 106.7 C925.6 103.9 925.7 99.9 926.7 96.7 C927.6 93.5 930.8 89 931.7 87.5"/>
<path d="M931.7 87.5 L953.3 70.8"/>
<path d="M953.3 70.8 L975.8 84.2"/>
<path d="M931.7 88.8 L979.2 113.3"/>
<path d="M975.8 84.2 C976.2 86.5 977.7 93.5 978.3 98.3 C979 103.2 979 107.5 979.7 113.3 C980.4 119.2 981.9 127.8 982.5 133.3 C983.1 138.9 983.2 144.4 983.3 146.7"/>
<path d="M975.8 84.2 C977.1 85.1 981 86.2 983.3 90 C985.7 93.8 988.3 101.1 990 106.7 C991.7 112.2 992.9 117.8 993.3 123.3 C993.8 128.9 993.6 134.7 992.5 140 C991.4 145.3 988.5 151.4 986.7 155 C984.9 158.6 982.5 160.6 981.7 161.7"/>
<path d="M981.7 161.7 C983.1 162.6 986.4 166.2 990 167.5 C993.6 168.8 999.2 169.4 1003.3 169.2 C1007.5 168.9 1011.8 166.9 1015 165.8 C1018.2 164.7 1021.2 163.1 1022.5 162.5"/>
<path d="M1015 143.3 L1022.5 155 L1022.5 162.5"/>
<path d="M1022.5 155 L1033.3 150 L1033.3 156.7 L1022.5 162.5"/>
<path d="M1015 143.3 L1026.7 139.2 L1033.3 150"/>
<path d="M1015 143.3 L1014.7 123.3"/>
<path d="M1015 123.3 L1023.3 118.3"/>
<path d="M1006.7 91.7 C1007.6 93.6 1011.1 98.6 1012.5 103.3 C1013.9 108.1 1014.6 117.2 1015 120"/>
<path d="M960.8 71.7 C961.8 70.6 964.9 66.9 966.7 65 C968.5 63.1 969.7 61 971.7 60 C973.6 59 977.2 59.3 978.3 59.2"/>
<path d="M978.3 59.2 C980.3 60.1 986.7 61.8 990 65 C993.3 68.2 996 73.9 998.3 78.3 C1000.7 82.8 1003.1 87.8 1004.2 91.7 C1005.3 95.6 1005.7 99.2 1005 101.7 C1004.3 104.2 1002.2 105.3 1000 106.7 C997.8 108.1 993.1 109.4 991.7 110"/>
<path d="M975.8 62.5 C977.6 63.5 983.5 65.1 986.7 68.3 C989.9 71.5 992.8 77.2 995 81.7 C997.2 86.1 999 91.4 1000 95 C1001 98.6 1000.7 101.9 1000.8 103.3"/>
<ellipse cx="991.7" cy="99.2" rx="1.3" ry="2" transform="rotate(25 991.7 99.2)"/>
<path d="M990 109.2 L976.3 84.7"/>
<path d="M978.3 59.2 C979.2 58.9 980.8 57.1 983.3 57.5 C985.8 57.9 991.7 61 993.3 61.7"/>
<path d="M931.7 113.3 C932.8 112.2 935.6 108.2 938.3 106.7 C941.1 105.1 945 103.6 948.3 104.2 C951.7 104.7 954.7 106.5 958.3 110 C961.9 113.5 967.1 120 970 125 C972.9 130 974.6 135.3 975.8 140 C977.1 144.7 977.9 149.4 977.5 153.3 C977.1 157.2 975.1 161.1 973.3 163.3 C971.5 165.6 967.8 166.1 966.7 166.7"/>
<path d="M935 115.8 C936.7 114.9 941.7 110.4 945 110 C948.3 109.6 951.7 110.6 955 113.3 C958.3 116.1 962.2 121.7 965 126.7 C967.8 131.7 970.4 138.3 971.7 143.3 C972.9 148.3 973.1 153.2 972.5 156.7 C971.9 160.1 969 162.9 968.3 164.2"/>
<path d="M945 133.3 C945.8 135.6 948.6 142.2 950 146.7 C951.4 151.1 952.8 155.8 953.3 160 C953.9 164.2 953.3 169.7 953.3 171.7"/>
<path d="M816 92.3 L833 92.3 L833 108 L842 124"/>
<text x="799.5" y="98.5" font-size="19.5">6</text>
</svg>
</body></html>
